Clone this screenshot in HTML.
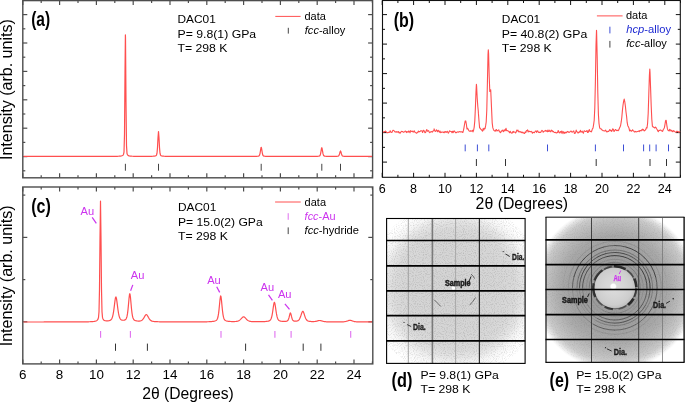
<!DOCTYPE html>
<html><head><meta charset="utf-8"><style>
html,body{margin:0;padding:0;background:#fff;width:685px;height:402px;overflow:hidden}
svg{display:block;will-change:transform}
text{font-family:"Liberation Sans", sans-serif}
</style></head><body>
<svg width="685" height="402" viewBox="0 0 685 402">
<rect x="22.8" y="0.6" width="349.8" height="177.20000000000002" fill="none" stroke="#4d4d4d" stroke-width="1.4"/>
<line x1="22.80" y1="177.80" x2="22.80" y2="173.30" stroke="#4d4d4d" stroke-width="1.2" />
<line x1="22.80" y1="0.60" x2="22.80" y2="5.10" stroke="#4d4d4d" stroke-width="1.2" />
<line x1="41.20" y1="177.80" x2="41.20" y2="175.30" stroke="#4d4d4d" stroke-width="1.2" />
<line x1="41.20" y1="0.60" x2="41.20" y2="3.10" stroke="#4d4d4d" stroke-width="1.2" />
<line x1="59.60" y1="177.80" x2="59.60" y2="173.30" stroke="#4d4d4d" stroke-width="1.2" />
<line x1="59.60" y1="0.60" x2="59.60" y2="5.10" stroke="#4d4d4d" stroke-width="1.2" />
<line x1="78.00" y1="177.80" x2="78.00" y2="175.30" stroke="#4d4d4d" stroke-width="1.2" />
<line x1="78.00" y1="0.60" x2="78.00" y2="3.10" stroke="#4d4d4d" stroke-width="1.2" />
<line x1="96.40" y1="177.80" x2="96.40" y2="173.30" stroke="#4d4d4d" stroke-width="1.2" />
<line x1="96.40" y1="0.60" x2="96.40" y2="5.10" stroke="#4d4d4d" stroke-width="1.2" />
<line x1="114.80" y1="177.80" x2="114.80" y2="175.30" stroke="#4d4d4d" stroke-width="1.2" />
<line x1="114.80" y1="0.60" x2="114.80" y2="3.10" stroke="#4d4d4d" stroke-width="1.2" />
<line x1="133.20" y1="177.80" x2="133.20" y2="173.30" stroke="#4d4d4d" stroke-width="1.2" />
<line x1="133.20" y1="0.60" x2="133.20" y2="5.10" stroke="#4d4d4d" stroke-width="1.2" />
<line x1="151.60" y1="177.80" x2="151.60" y2="175.30" stroke="#4d4d4d" stroke-width="1.2" />
<line x1="151.60" y1="0.60" x2="151.60" y2="3.10" stroke="#4d4d4d" stroke-width="1.2" />
<line x1="170.00" y1="177.80" x2="170.00" y2="173.30" stroke="#4d4d4d" stroke-width="1.2" />
<line x1="170.00" y1="0.60" x2="170.00" y2="5.10" stroke="#4d4d4d" stroke-width="1.2" />
<line x1="188.40" y1="177.80" x2="188.40" y2="175.30" stroke="#4d4d4d" stroke-width="1.2" />
<line x1="188.40" y1="0.60" x2="188.40" y2="3.10" stroke="#4d4d4d" stroke-width="1.2" />
<line x1="206.80" y1="177.80" x2="206.80" y2="173.30" stroke="#4d4d4d" stroke-width="1.2" />
<line x1="206.80" y1="0.60" x2="206.80" y2="5.10" stroke="#4d4d4d" stroke-width="1.2" />
<line x1="225.20" y1="177.80" x2="225.20" y2="175.30" stroke="#4d4d4d" stroke-width="1.2" />
<line x1="225.20" y1="0.60" x2="225.20" y2="3.10" stroke="#4d4d4d" stroke-width="1.2" />
<line x1="243.60" y1="177.80" x2="243.60" y2="173.30" stroke="#4d4d4d" stroke-width="1.2" />
<line x1="243.60" y1="0.60" x2="243.60" y2="5.10" stroke="#4d4d4d" stroke-width="1.2" />
<line x1="262.00" y1="177.80" x2="262.00" y2="175.30" stroke="#4d4d4d" stroke-width="1.2" />
<line x1="262.00" y1="0.60" x2="262.00" y2="3.10" stroke="#4d4d4d" stroke-width="1.2" />
<line x1="280.40" y1="177.80" x2="280.40" y2="173.30" stroke="#4d4d4d" stroke-width="1.2" />
<line x1="280.40" y1="0.60" x2="280.40" y2="5.10" stroke="#4d4d4d" stroke-width="1.2" />
<line x1="298.80" y1="177.80" x2="298.80" y2="175.30" stroke="#4d4d4d" stroke-width="1.2" />
<line x1="298.80" y1="0.60" x2="298.80" y2="3.10" stroke="#4d4d4d" stroke-width="1.2" />
<line x1="317.20" y1="177.80" x2="317.20" y2="173.30" stroke="#4d4d4d" stroke-width="1.2" />
<line x1="317.20" y1="0.60" x2="317.20" y2="5.10" stroke="#4d4d4d" stroke-width="1.2" />
<line x1="335.60" y1="177.80" x2="335.60" y2="175.30" stroke="#4d4d4d" stroke-width="1.2" />
<line x1="335.60" y1="0.60" x2="335.60" y2="3.10" stroke="#4d4d4d" stroke-width="1.2" />
<line x1="354.00" y1="177.80" x2="354.00" y2="173.30" stroke="#4d4d4d" stroke-width="1.2" />
<line x1="354.00" y1="0.60" x2="354.00" y2="5.10" stroke="#4d4d4d" stroke-width="1.2" />
<line x1="372.40" y1="177.80" x2="372.40" y2="175.30" stroke="#4d4d4d" stroke-width="1.2" />
<line x1="372.40" y1="0.60" x2="372.40" y2="3.10" stroke="#4d4d4d" stroke-width="1.2" />
<line x1="22.80" y1="14.60" x2="27.30" y2="14.60" stroke="#4d4d4d" stroke-width="1.2" />
<line x1="372.60" y1="14.60" x2="368.10" y2="14.60" stroke="#4d4d4d" stroke-width="1.2" />
<line x1="22.80" y1="28.80" x2="25.30" y2="28.80" stroke="#4d4d4d" stroke-width="1.2" />
<line x1="372.60" y1="28.80" x2="370.10" y2="28.80" stroke="#4d4d4d" stroke-width="1.2" />
<line x1="22.80" y1="43.00" x2="27.30" y2="43.00" stroke="#4d4d4d" stroke-width="1.2" />
<line x1="372.60" y1="43.00" x2="368.10" y2="43.00" stroke="#4d4d4d" stroke-width="1.2" />
<line x1="22.80" y1="57.20" x2="25.30" y2="57.20" stroke="#4d4d4d" stroke-width="1.2" />
<line x1="372.60" y1="57.20" x2="370.10" y2="57.20" stroke="#4d4d4d" stroke-width="1.2" />
<line x1="22.80" y1="71.40" x2="27.30" y2="71.40" stroke="#4d4d4d" stroke-width="1.2" />
<line x1="372.60" y1="71.40" x2="368.10" y2="71.40" stroke="#4d4d4d" stroke-width="1.2" />
<line x1="22.80" y1="85.60" x2="25.30" y2="85.60" stroke="#4d4d4d" stroke-width="1.2" />
<line x1="372.60" y1="85.60" x2="370.10" y2="85.60" stroke="#4d4d4d" stroke-width="1.2" />
<line x1="22.80" y1="99.80" x2="27.30" y2="99.80" stroke="#4d4d4d" stroke-width="1.2" />
<line x1="372.60" y1="99.80" x2="368.10" y2="99.80" stroke="#4d4d4d" stroke-width="1.2" />
<line x1="22.80" y1="114.00" x2="25.30" y2="114.00" stroke="#4d4d4d" stroke-width="1.2" />
<line x1="372.60" y1="114.00" x2="370.10" y2="114.00" stroke="#4d4d4d" stroke-width="1.2" />
<line x1="22.80" y1="128.20" x2="27.30" y2="128.20" stroke="#4d4d4d" stroke-width="1.2" />
<line x1="372.60" y1="128.20" x2="368.10" y2="128.20" stroke="#4d4d4d" stroke-width="1.2" />
<line x1="22.80" y1="142.40" x2="25.30" y2="142.40" stroke="#4d4d4d" stroke-width="1.2" />
<line x1="372.60" y1="142.40" x2="370.10" y2="142.40" stroke="#4d4d4d" stroke-width="1.2" />
<line x1="22.80" y1="156.60" x2="27.30" y2="156.60" stroke="#4d4d4d" stroke-width="1.2" />
<line x1="372.60" y1="156.60" x2="368.10" y2="156.60" stroke="#4d4d4d" stroke-width="1.2" />
<line x1="22.80" y1="170.80" x2="25.30" y2="170.80" stroke="#4d4d4d" stroke-width="1.2" />
<line x1="372.60" y1="170.80" x2="370.10" y2="170.80" stroke="#4d4d4d" stroke-width="1.2" />
<polyline fill="none" stroke="#ff4f4f" stroke-width="1.2" stroke-linejoin="round" points="23.50,156.40 24.00,156.40 24.50,156.40 25.00,156.40 25.50,156.40 26.00,156.40 26.50,156.40 27.00,156.40 27.50,156.40 28.00,156.40 28.50,156.40 29.00,156.40 29.50,156.40 30.00,156.40 30.50,156.40 31.00,156.40 31.50,156.40 32.00,156.40 32.50,156.40 33.00,156.40 33.50,156.40 34.00,156.40 34.50,156.40 35.00,156.40 35.50,156.40 36.00,156.40 36.50,156.40 37.00,156.40 37.50,156.40 38.00,156.40 38.50,156.40 39.00,156.40 39.50,156.40 40.00,156.40 40.50,156.40 41.00,156.40 41.50,156.40 42.00,156.40 42.50,156.40 43.00,156.40 43.50,156.40 44.00,156.40 44.50,156.40 45.00,156.40 45.50,156.40 46.00,156.40 46.50,156.40 47.00,156.40 47.50,156.40 48.00,156.40 48.50,156.40 49.00,156.40 49.50,156.40 50.00,156.40 50.50,156.40 51.00,156.40 51.50,156.40 52.00,156.40 52.50,156.40 53.00,156.40 53.50,156.40 54.00,156.40 54.50,156.40 55.00,156.40 55.50,156.40 56.00,156.40 56.50,156.40 57.00,156.40 57.50,156.40 58.00,156.40 58.50,156.40 59.00,156.40 59.50,156.40 60.00,156.40 60.50,156.40 61.00,156.40 61.50,156.40 62.00,156.40 62.50,156.40 63.00,156.40 63.50,156.40 64.00,156.40 64.50,156.40 65.00,156.40 65.50,156.40 66.00,156.40 66.50,156.40 67.00,156.40 67.50,156.40 68.00,156.40 68.50,156.40 69.00,156.40 69.50,156.40 70.00,156.40 70.50,156.40 71.00,156.40 71.50,156.40 72.00,156.40 72.50,156.40 73.00,156.40 73.50,156.40 74.00,156.40 74.50,156.40 75.00,156.40 75.50,156.40 76.00,156.40 76.50,156.40 77.00,156.40 77.50,156.40 78.00,156.40 78.50,156.40 79.00,156.40 79.50,156.40 80.00,156.40 80.50,156.40 81.00,156.40 81.50,156.40 82.00,156.40 82.50,156.40 83.00,156.39 83.50,156.39 84.00,156.39 84.50,156.39 85.00,156.39 85.50,156.39 86.00,156.39 86.50,156.39 87.00,156.39 87.50,156.39 88.00,156.39 88.50,156.39 89.00,156.39 89.50,156.39 90.00,156.39 90.50,156.39 91.00,156.39 91.50,156.39 92.00,156.39 92.50,156.39 93.00,156.39 93.50,156.39 94.00,156.39 94.50,156.39 95.00,156.39 95.50,156.39 96.00,156.39 96.50,156.39 97.00,156.39 97.50,156.39 98.00,156.39 98.50,156.39 99.00,156.39 99.50,156.39 100.00,156.39 100.50,156.39 101.00,156.39 101.50,156.39 102.00,156.38 102.50,156.38 103.00,156.38 103.50,156.38 104.00,156.38 104.50,156.38 105.00,156.38 105.50,156.38 106.00,156.38 106.50,156.38 107.00,156.38 107.50,156.38 108.00,156.37 108.50,156.37 109.00,156.37 109.50,156.37 110.00,156.37 110.50,156.36 111.00,156.36 111.50,156.36 112.00,156.36 112.50,156.35 113.00,156.35 113.50,156.35 114.00,156.34 114.50,156.34 115.00,156.33 115.50,156.32 116.00,156.31 116.50,156.30 117.00,156.29 117.50,156.28 118.00,156.26 118.50,156.24 119.00,156.22 119.50,156.19 120.00,156.15 120.50,156.09 121.00,156.02 121.50,155.92 122.00,155.78 122.50,155.55 123.00,155.18 123.50,154.49 124.00,152.06 124.50,134.60 125.00,73.14 125.40,34.90 125.50,37.88 126.00,102.70 126.50,145.46 127.00,153.55 127.50,154.83 128.00,155.35 128.50,155.65 129.00,155.84 129.50,155.96 130.00,156.05 130.50,156.11 131.00,156.16 131.50,156.20 132.00,156.23 132.50,156.25 133.00,156.27 133.50,156.28 134.00,156.29 134.50,156.30 135.00,156.31 135.50,156.32 136.00,156.33 136.50,156.33 137.00,156.33 137.50,156.34 138.00,156.34 138.50,156.35 139.00,156.35 139.50,156.35 140.00,156.35 140.50,156.35 141.00,156.35 141.50,156.35 142.00,156.36 142.50,156.36 143.00,156.36 143.50,156.36 144.00,156.36 144.50,156.36 145.00,156.35 145.50,156.35 146.00,156.35 146.50,156.35 147.00,156.35 147.50,156.35 148.00,156.34 148.50,156.34 149.00,156.33 149.50,156.33 150.00,156.32 150.50,156.31 151.00,156.30 151.50,156.29 152.00,156.28 152.50,156.26 153.00,156.24 153.50,156.20 154.00,156.16 154.50,156.10 155.00,156.02 155.50,155.89 156.00,155.68 156.50,155.13 157.00,153.21 157.50,147.58 158.00,137.73 158.50,131.50 159.00,137.73 159.50,147.58 160.00,153.22 160.50,155.13 161.00,155.68 161.50,155.90 162.00,156.02 162.50,156.11 163.00,156.17 163.50,156.21 164.00,156.24 164.50,156.26 165.00,156.28 165.50,156.30 166.00,156.31 166.50,156.32 167.00,156.33 167.50,156.34 168.00,156.34 168.50,156.35 169.00,156.35 169.50,156.36 170.00,156.36 170.50,156.36 171.00,156.37 171.50,156.37 172.00,156.37 172.50,156.37 173.00,156.37 173.50,156.38 174.00,156.38 174.50,156.38 175.00,156.38 175.50,156.38 176.00,156.38 176.50,156.38 177.00,156.38 177.50,156.38 178.00,156.38 178.50,156.38 179.00,156.39 179.50,156.39 180.00,156.39 180.50,156.39 181.00,156.39 181.50,156.39 182.00,156.39 182.50,156.39 183.00,156.39 183.50,156.39 184.00,156.39 184.50,156.39 185.00,156.39 185.50,156.39 186.00,156.39 186.50,156.39 187.00,156.39 187.50,156.39 188.00,156.39 188.50,156.39 189.00,156.39 189.50,156.39 190.00,156.39 190.50,156.39 191.00,156.39 191.50,156.39 192.00,156.39 192.50,156.39 193.00,156.39 193.50,156.39 194.00,156.39 194.50,156.39 195.00,156.39 195.50,156.39 196.00,156.39 196.50,156.39 197.00,156.39 197.50,156.39 198.00,156.39 198.50,156.39 199.00,156.39 199.50,156.40 200.00,156.40 200.50,156.40 201.00,156.40 201.50,156.40 202.00,156.40 202.50,156.40 203.00,156.40 203.50,156.40 204.00,156.40 204.50,156.40 205.00,156.40 205.50,156.40 206.00,156.40 206.50,156.40 207.00,156.40 207.50,156.40 208.00,156.40 208.50,156.40 209.00,156.40 209.50,156.40 210.00,156.40 210.50,156.40 211.00,156.40 211.50,156.40 212.00,156.40 212.50,156.40 213.00,156.40 213.50,156.40 214.00,156.40 214.50,156.40 215.00,156.40 215.50,156.40 216.00,156.40 216.50,156.40 217.00,156.40 217.50,156.40 218.00,156.40 218.50,156.40 219.00,156.40 219.50,156.40 220.00,156.40 220.50,156.40 221.00,156.40 221.50,156.40 222.00,156.40 222.50,156.40 223.00,156.40 223.50,156.40 224.00,156.40 224.50,156.40 225.00,156.40 225.50,156.40 226.00,156.40 226.50,156.40 227.00,156.40 227.50,156.40 228.00,156.40 228.50,156.40 229.00,156.40 229.50,156.40 230.00,156.40 230.50,156.40 231.00,156.40 231.50,156.40 232.00,156.40 232.50,156.40 233.00,156.40 233.50,156.40 234.00,156.40 234.50,156.40 235.00,156.39 235.50,156.39 236.00,156.39 236.50,156.39 237.00,156.39 237.50,156.39 238.00,156.39 238.50,156.39 239.00,156.39 239.50,156.39 240.00,156.39 240.50,156.39 241.00,156.39 241.50,156.39 242.00,156.39 242.50,156.39 243.00,156.39 243.50,156.39 244.00,156.39 244.50,156.39 245.00,156.39 245.50,156.39 246.00,156.39 246.50,156.39 247.00,156.39 247.50,156.39 248.00,156.39 248.50,156.38 249.00,156.38 249.50,156.38 250.00,156.38 250.50,156.38 251.00,156.38 251.50,156.38 252.00,156.37 252.50,156.37 253.00,156.37 253.50,156.36 254.00,156.36 254.50,156.35 255.00,156.34 255.50,156.33 256.00,156.32 256.50,156.30 257.00,156.28 257.50,156.25 258.00,156.20 258.50,156.11 259.00,155.91 259.50,155.26 260.00,153.56 260.50,150.51 261.00,147.64 261.20,147.30 261.50,148.05 262.00,151.19 262.50,154.01 263.00,155.45 263.50,155.97 264.00,156.13 264.50,156.21 265.00,156.25 265.50,156.28 266.00,156.31 266.50,156.32 267.00,156.33 267.50,156.34 268.00,156.35 268.50,156.36 269.00,156.36 269.50,156.37 270.00,156.37 270.50,156.37 271.00,156.38 271.50,156.38 272.00,156.38 272.50,156.38 273.00,156.38 273.50,156.38 274.00,156.38 274.50,156.39 275.00,156.39 275.50,156.39 276.00,156.39 276.50,156.39 277.00,156.39 277.50,156.39 278.00,156.39 278.50,156.39 279.00,156.39 279.50,156.39 280.00,156.39 280.50,156.39 281.00,156.39 281.50,156.39 282.00,156.39 282.50,156.39 283.00,156.39 283.50,156.39 284.00,156.39 284.50,156.39 285.00,156.39 285.50,156.39 286.00,156.39 286.50,156.39 287.00,156.39 287.50,156.39 288.00,156.39 288.50,156.39 289.00,156.39 289.50,156.39 290.00,156.39 290.50,156.39 291.00,156.39 291.50,156.39 292.00,156.39 292.50,156.39 293.00,156.39 293.50,156.39 294.00,156.39 294.50,156.39 295.00,156.39 295.50,156.39 296.00,156.39 296.50,156.39 297.00,156.39 297.50,156.39 298.00,156.39 298.50,156.39 299.00,156.39 299.50,156.39 300.00,156.39 300.50,156.39 301.00,156.39 301.50,156.39 302.00,156.39 302.50,156.39 303.00,156.39 303.50,156.39 304.00,156.39 304.50,156.39 305.00,156.39 305.50,156.39 306.00,156.39 306.50,156.39 307.00,156.39 307.50,156.39 308.00,156.39 308.50,156.39 309.00,156.38 309.50,156.38 310.00,156.38 310.50,156.38 311.00,156.38 311.50,156.38 312.00,156.38 312.50,156.37 313.00,156.37 313.50,156.37 314.00,156.36 314.50,156.36 315.00,156.35 315.50,156.34 316.00,156.34 316.50,156.32 317.00,156.31 317.50,156.29 318.00,156.26 318.50,156.22 319.00,156.14 319.50,155.98 320.00,155.49 320.50,154.12 321.00,151.42 321.50,148.41 321.80,147.70 322.00,148.03 322.50,150.77 323.00,153.68 323.50,155.31 324.00,155.92 324.50,156.12 325.00,156.20 325.50,156.25 326.00,156.28 326.50,156.30 327.00,156.32 327.50,156.33 328.00,156.34 328.50,156.34 329.00,156.35 329.50,156.35 330.00,156.36 330.50,156.36 331.00,156.36 331.50,156.36 332.00,156.36 332.50,156.36 333.00,156.36 333.50,156.36 334.00,156.35 334.50,156.35 335.00,156.34 335.50,156.34 336.00,156.33 336.50,156.31 337.00,156.29 337.50,156.25 338.00,156.18 338.50,155.99 339.00,155.40 339.50,154.02 340.00,152.03 340.50,150.90 341.00,152.03 341.50,154.02 342.00,155.40 342.50,155.99 343.00,156.19 343.50,156.26 344.00,156.29 344.50,156.32 345.00,156.33 345.50,156.34 346.00,156.35 346.50,156.36 347.00,156.37 347.50,156.37 348.00,156.37 348.50,156.38 349.00,156.38 349.50,156.38 350.00,156.38 350.50,156.38 351.00,156.38 351.50,156.39 352.00,156.39 352.50,156.39 353.00,156.39 353.50,156.39 354.00,156.39 354.50,156.39 355.00,156.39 355.50,156.39 356.00,156.39 356.50,156.39 357.00,156.39 357.50,156.39 358.00,156.39 358.50,156.39 359.00,156.39 359.50,156.39 360.00,156.39 360.50,156.39 361.00,156.39 361.50,156.40 362.00,156.40 362.50,156.40 363.00,156.40 363.50,156.40 364.00,156.40 364.50,156.40 365.00,156.40 365.50,156.40 366.00,156.40 366.50,156.40 367.00,156.40 367.50,156.40 368.00,156.40 368.50,156.40 369.00,156.40 369.50,156.40 370.00,156.40 370.50,156.40 371.00,156.40 371.50,156.40 372.00,156.40"/>
<line x1="125.40" y1="163.80" x2="125.40" y2="170.70" stroke="#444" stroke-width="1.0" />
<line x1="158.50" y1="163.80" x2="158.50" y2="170.70" stroke="#444" stroke-width="1.0" />
<line x1="261.20" y1="163.80" x2="261.20" y2="170.70" stroke="#444" stroke-width="1.0" />
<line x1="321.80" y1="163.80" x2="321.80" y2="170.70" stroke="#444" stroke-width="1.0" />
<line x1="340.50" y1="163.80" x2="340.50" y2="170.70" stroke="#444" stroke-width="1.0" />
<text x="31.2" y="25.6" font-size="19.5" fill="#000" font-weight="bold" font-style="normal" text-anchor="start" textLength="19" lengthAdjust="spacingAndGlyphs" >(a)</text>
<text x="177.5" y="23.1" font-size="11.5" fill="#000" font-weight="normal" font-style="normal" text-anchor="start" textLength="38.3" lengthAdjust="spacingAndGlyphs" >DAC01</text>
<text x="177.5" y="37.8" font-size="11.5" fill="#000" font-weight="normal" font-style="normal" text-anchor="start" textLength="78.7" lengthAdjust="spacingAndGlyphs" >P= 9.8(1) GPa</text>
<text x="177.5" y="52.2" font-size="11.5" fill="#000" font-weight="normal" font-style="normal" text-anchor="start" textLength="50" lengthAdjust="spacingAndGlyphs" >T= 298 K</text>
<line x1="275.30" y1="16.40" x2="300.60" y2="16.40" stroke="#ff5050" stroke-width="1.0" />
<text x="304.5" y="20.2" font-size="10.5" fill="#000" font-weight="normal" font-style="normal" text-anchor="start" textLength="21.4" lengthAdjust="spacingAndGlyphs" >data</text>
<line x1="288.30" y1="27.80" x2="288.30" y2="33.60" stroke="#444" stroke-width="1.0" />
<text x="304.8" y="33.6" font-size="10.5" fill="#000" font-weight="normal" font-style="normal" text-anchor="start" textLength="40.5" lengthAdjust="spacingAndGlyphs" ><tspan font-style="italic">fcc</tspan>-alloy</text>
<rect x="382.5" y="0.5" width="297.79999999999995" height="176.8" fill="none" stroke="#111" stroke-width="1.1"/>
<line x1="382.20" y1="177.30" x2="382.20" y2="172.80" stroke="#111" stroke-width="1.0" />
<line x1="382.20" y1="0.50" x2="382.20" y2="5.00" stroke="#111" stroke-width="1.0" />
<line x1="397.90" y1="177.30" x2="397.90" y2="174.80" stroke="#111" stroke-width="1.0" />
<line x1="397.90" y1="0.50" x2="397.90" y2="3.00" stroke="#111" stroke-width="1.0" />
<line x1="413.60" y1="177.30" x2="413.60" y2="172.80" stroke="#111" stroke-width="1.0" />
<line x1="413.60" y1="0.50" x2="413.60" y2="5.00" stroke="#111" stroke-width="1.0" />
<line x1="429.30" y1="177.30" x2="429.30" y2="174.80" stroke="#111" stroke-width="1.0" />
<line x1="429.30" y1="0.50" x2="429.30" y2="3.00" stroke="#111" stroke-width="1.0" />
<line x1="445.00" y1="177.30" x2="445.00" y2="172.80" stroke="#111" stroke-width="1.0" />
<line x1="445.00" y1="0.50" x2="445.00" y2="5.00" stroke="#111" stroke-width="1.0" />
<line x1="460.70" y1="177.30" x2="460.70" y2="174.80" stroke="#111" stroke-width="1.0" />
<line x1="460.70" y1="0.50" x2="460.70" y2="3.00" stroke="#111" stroke-width="1.0" />
<line x1="476.40" y1="177.30" x2="476.40" y2="172.80" stroke="#111" stroke-width="1.0" />
<line x1="476.40" y1="0.50" x2="476.40" y2="5.00" stroke="#111" stroke-width="1.0" />
<line x1="492.10" y1="177.30" x2="492.10" y2="174.80" stroke="#111" stroke-width="1.0" />
<line x1="492.10" y1="0.50" x2="492.10" y2="3.00" stroke="#111" stroke-width="1.0" />
<line x1="507.80" y1="177.30" x2="507.80" y2="172.80" stroke="#111" stroke-width="1.0" />
<line x1="507.80" y1="0.50" x2="507.80" y2="5.00" stroke="#111" stroke-width="1.0" />
<line x1="523.50" y1="177.30" x2="523.50" y2="174.80" stroke="#111" stroke-width="1.0" />
<line x1="523.50" y1="0.50" x2="523.50" y2="3.00" stroke="#111" stroke-width="1.0" />
<line x1="539.20" y1="177.30" x2="539.20" y2="172.80" stroke="#111" stroke-width="1.0" />
<line x1="539.20" y1="0.50" x2="539.20" y2="5.00" stroke="#111" stroke-width="1.0" />
<line x1="554.90" y1="177.30" x2="554.90" y2="174.80" stroke="#111" stroke-width="1.0" />
<line x1="554.90" y1="0.50" x2="554.90" y2="3.00" stroke="#111" stroke-width="1.0" />
<line x1="570.60" y1="177.30" x2="570.60" y2="172.80" stroke="#111" stroke-width="1.0" />
<line x1="570.60" y1="0.50" x2="570.60" y2="5.00" stroke="#111" stroke-width="1.0" />
<line x1="586.30" y1="177.30" x2="586.30" y2="174.80" stroke="#111" stroke-width="1.0" />
<line x1="586.30" y1="0.50" x2="586.30" y2="3.00" stroke="#111" stroke-width="1.0" />
<line x1="602.00" y1="177.30" x2="602.00" y2="172.80" stroke="#111" stroke-width="1.0" />
<line x1="602.00" y1="0.50" x2="602.00" y2="5.00" stroke="#111" stroke-width="1.0" />
<line x1="617.70" y1="177.30" x2="617.70" y2="174.80" stroke="#111" stroke-width="1.0" />
<line x1="617.70" y1="0.50" x2="617.70" y2="3.00" stroke="#111" stroke-width="1.0" />
<line x1="633.40" y1="177.30" x2="633.40" y2="172.80" stroke="#111" stroke-width="1.0" />
<line x1="633.40" y1="0.50" x2="633.40" y2="5.00" stroke="#111" stroke-width="1.0" />
<line x1="649.10" y1="177.30" x2="649.10" y2="174.80" stroke="#111" stroke-width="1.0" />
<line x1="649.10" y1="0.50" x2="649.10" y2="3.00" stroke="#111" stroke-width="1.0" />
<line x1="664.80" y1="177.30" x2="664.80" y2="172.80" stroke="#111" stroke-width="1.0" />
<line x1="664.80" y1="0.50" x2="664.80" y2="5.00" stroke="#111" stroke-width="1.0" />
<line x1="680.50" y1="177.30" x2="680.50" y2="174.80" stroke="#111" stroke-width="1.0" />
<line x1="680.50" y1="0.50" x2="680.50" y2="3.00" stroke="#111" stroke-width="1.0" />
<line x1="382.50" y1="14.60" x2="387.00" y2="14.60" stroke="#111" stroke-width="1.0" />
<line x1="680.30" y1="14.60" x2="675.80" y2="14.60" stroke="#111" stroke-width="1.0" />
<line x1="382.50" y1="29.35" x2="385.00" y2="29.35" stroke="#111" stroke-width="1.0" />
<line x1="680.30" y1="29.35" x2="677.80" y2="29.35" stroke="#111" stroke-width="1.0" />
<line x1="382.50" y1="44.10" x2="387.00" y2="44.10" stroke="#111" stroke-width="1.0" />
<line x1="680.30" y1="44.10" x2="675.80" y2="44.10" stroke="#111" stroke-width="1.0" />
<line x1="382.50" y1="58.85" x2="385.00" y2="58.85" stroke="#111" stroke-width="1.0" />
<line x1="680.30" y1="58.85" x2="677.80" y2="58.85" stroke="#111" stroke-width="1.0" />
<line x1="382.50" y1="73.60" x2="387.00" y2="73.60" stroke="#111" stroke-width="1.0" />
<line x1="680.30" y1="73.60" x2="675.80" y2="73.60" stroke="#111" stroke-width="1.0" />
<line x1="382.50" y1="88.35" x2="385.00" y2="88.35" stroke="#111" stroke-width="1.0" />
<line x1="680.30" y1="88.35" x2="677.80" y2="88.35" stroke="#111" stroke-width="1.0" />
<line x1="382.50" y1="103.10" x2="387.00" y2="103.10" stroke="#111" stroke-width="1.0" />
<line x1="680.30" y1="103.10" x2="675.80" y2="103.10" stroke="#111" stroke-width="1.0" />
<line x1="382.50" y1="117.85" x2="385.00" y2="117.85" stroke="#111" stroke-width="1.0" />
<line x1="680.30" y1="117.85" x2="677.80" y2="117.85" stroke="#111" stroke-width="1.0" />
<line x1="382.50" y1="132.60" x2="387.00" y2="132.60" stroke="#111" stroke-width="1.0" />
<line x1="680.30" y1="132.60" x2="675.80" y2="132.60" stroke="#111" stroke-width="1.0" />
<line x1="382.50" y1="147.35" x2="385.00" y2="147.35" stroke="#111" stroke-width="1.0" />
<line x1="680.30" y1="147.35" x2="677.80" y2="147.35" stroke="#111" stroke-width="1.0" />
<line x1="382.50" y1="162.10" x2="387.00" y2="162.10" stroke="#111" stroke-width="1.0" />
<line x1="680.30" y1="162.10" x2="675.80" y2="162.10" stroke="#111" stroke-width="1.0" />
<polyline fill="none" stroke="#ff4f4f" stroke-width="1.1" stroke-linejoin="round" points="383.00,131.70 383.60,132.20 384.20,131.83 384.80,131.63 385.40,131.10 386.00,131.45 386.60,132.57 387.20,132.44 387.80,132.86 388.40,132.41 389.00,132.37 389.60,132.19 390.20,130.74 390.80,132.13 391.40,132.35 392.00,132.42 392.60,130.80 393.20,130.20 393.80,130.63 394.40,131.09 395.00,131.84 395.60,131.83 396.20,132.26 396.80,131.53 397.40,131.99 398.00,132.22 398.60,131.50 399.20,133.04 399.80,132.70 400.40,133.07 401.00,131.83 401.60,131.31 402.20,131.42 402.80,131.64 403.40,132.27 404.00,132.20 404.60,131.66 405.20,131.08 405.80,131.21 406.40,132.56 407.00,131.51 407.60,131.93 408.20,132.22 408.80,130.88 409.40,131.56 410.00,132.75 410.60,130.67 411.20,131.21 411.80,131.56 412.40,131.15 413.00,131.99 413.60,131.87 414.20,130.77 414.80,132.10 415.40,132.45 416.00,132.78 416.60,133.27 417.20,132.63 417.80,132.22 418.40,131.01 419.00,132.02 419.60,131.46 420.20,131.38 420.80,130.74 421.40,130.73 422.00,131.06 422.60,132.54 423.20,130.56 423.80,130.29 424.40,131.47 425.00,132.78 425.60,132.59 426.20,130.65 426.80,129.51 427.40,131.25 428.00,131.03 428.60,130.65 429.20,132.05 429.80,132.59 430.40,131.99 431.00,131.71 431.60,131.56 432.20,132.12 432.80,131.31 433.40,130.71 434.00,130.47 434.10,128.86 434.60,130.53 435.20,131.17 435.80,131.36 436.40,129.78 437.00,130.38 437.60,131.79 438.20,130.35 438.80,131.10 439.40,132.28 440.00,130.96 440.60,132.69 441.20,132.51 441.80,131.93 442.40,132.08 443.00,132.38 443.60,132.09 444.20,132.76 444.80,131.64 445.40,131.44 446.00,132.46 446.60,132.05 447.20,131.23 447.80,132.31 448.40,133.08 449.00,131.91 449.60,130.80 450.20,131.34 450.80,131.52 451.40,131.47 452.00,132.72 452.60,131.34 453.20,132.56 453.80,131.09 454.40,130.93 455.00,131.93 455.60,132.65 456.20,132.69 456.80,132.31 457.40,132.01 458.00,131.90 458.60,132.16 459.20,131.66 459.80,131.80 460.40,132.03 461.00,131.63 461.60,131.99 462.20,131.82 462.80,132.52 463.40,130.66 464.00,127.67 464.60,124.01 465.20,120.95 465.50,121.15 465.80,121.01 466.40,124.51 467.00,129.06 467.60,128.24 468.20,129.24 468.80,130.62 469.40,131.21 470.00,131.27 470.60,130.75 471.20,131.31 471.80,131.10 472.40,130.25 473.00,131.87 473.60,130.24 474.20,127.09 474.80,120.88 475.40,107.70 476.00,91.51 476.40,84.31 476.60,86.04 477.20,98.09 477.80,106.22 478.30,111.19 478.40,113.15 479.00,121.03 479.60,127.73 480.20,128.26 480.80,129.34 481.40,129.69 482.00,130.53 482.60,131.11 483.20,128.36 483.80,130.02 484.40,128.35 485.00,128.78 485.60,125.93 486.20,122.00 486.80,109.82 487.40,83.19 488.00,54.90 488.30,49.87 488.60,53.64 489.20,76.33 489.80,91.48 490.40,90.39 490.70,89.70 491.00,96.01 491.60,109.61 492.20,122.87 492.80,127.63 493.40,129.44 494.00,130.58 494.60,130.77 495.20,131.28 495.80,129.94 496.40,129.55 497.00,131.07 497.60,130.47 498.20,130.24 498.80,129.85 499.40,131.78 500.00,132.07 500.60,132.70 501.20,131.07 501.80,131.12 502.40,130.13 503.00,130.99 503.60,131.64 504.20,129.72 504.80,130.69 505.30,130.62 505.40,129.77 506.00,128.34 506.60,130.70 507.20,130.70 507.80,130.53 508.40,131.38 509.00,131.77 509.60,132.78 510.20,131.27 510.80,132.38 511.40,133.05 512.00,133.27 512.60,132.13 513.20,131.32 513.80,132.36 514.40,132.05 515.00,131.96 515.60,132.91 516.20,131.98 516.80,130.13 517.40,130.92 518.00,130.10 518.60,131.82 519.20,132.05 519.80,131.43 520.40,131.67 521.00,132.39 521.60,132.07 522.20,132.90 522.80,132.15 523.40,132.72 524.00,133.25 524.60,133.53 525.20,131.92 525.80,132.52 526.40,130.66 527.00,130.61 527.60,129.93 528.20,131.97 528.80,130.96 529.40,131.52 530.00,131.58 530.60,131.73 531.20,131.35 531.80,131.84 532.40,133.18 533.00,132.34 533.60,132.41 534.20,132.79 534.80,132.03 535.40,130.96 536.00,131.12 536.60,132.39 537.20,130.80 537.80,131.03 538.40,132.31 539.00,132.60 539.60,132.11 540.20,132.54 540.80,132.21 541.40,131.09 542.00,130.41 542.60,130.86 543.20,132.19 543.80,131.54 544.40,131.06 545.00,130.99 545.60,130.40 546.20,131.25 546.80,130.75 547.40,131.73 548.00,130.03 548.60,131.45 549.20,131.22 549.80,130.17 550.40,131.80 551.00,131.62 551.60,130.09 552.20,130.57 552.80,131.61 553.40,131.41 554.00,132.27 554.60,132.55 555.20,132.58 555.80,132.34 556.40,133.01 557.00,132.74 557.60,132.48 558.20,130.49 558.80,132.03 559.40,132.88 560.00,131.97 560.60,131.52 561.20,133.17 561.80,130.97 562.40,131.87 563.00,133.65 563.60,131.76 564.20,132.31 564.80,133.40 565.40,132.27 566.00,132.39 566.60,132.68 567.20,131.43 567.80,131.60 568.40,131.94 569.00,132.46 569.60,132.00 570.20,131.71 570.80,130.99 571.40,131.23 572.00,132.25 572.60,132.01 573.20,131.21 573.80,130.93 574.40,133.46 575.00,133.20 575.60,132.72 576.20,130.13 576.80,131.63 577.40,132.04 578.00,133.08 578.60,132.49 579.20,131.91 579.80,132.14 580.40,130.36 581.00,131.96 581.60,131.97 582.20,131.19 582.80,132.43 583.40,133.20 584.00,131.05 584.60,130.82 585.20,131.43 585.80,131.53 586.40,131.10 587.00,130.47 587.60,132.51 588.20,132.35 588.80,130.54 589.40,129.69 590.00,131.55 590.60,131.49 591.20,131.86 591.80,130.91 592.40,128.85 593.00,128.22 593.60,124.63 594.20,120.21 594.80,107.81 595.40,81.43 596.00,45.17 596.50,30.35 596.60,31.53 597.20,57.49 597.80,92.43 598.40,114.29 599.00,123.37 599.60,127.52 600.20,128.65 600.80,128.70 601.40,129.11 602.00,129.92 602.60,130.26 603.20,130.68 603.80,130.79 604.40,131.03 605.00,130.93 605.60,130.08 606.20,131.08 606.80,131.92 607.40,131.76 608.00,131.25 608.60,131.55 609.20,130.60 609.80,129.56 610.40,130.65 611.00,130.27 611.60,131.37 612.20,130.37 612.80,128.82 613.40,129.43 614.00,131.55 614.60,130.77 615.20,129.67 615.80,129.65 616.40,130.49 617.00,130.61 617.60,130.20 618.20,130.73 618.80,129.85 619.40,128.24 620.00,126.95 620.60,125.50 621.20,121.96 621.80,117.51 622.40,110.63 623.00,105.24 623.60,101.45 624.20,99.14 624.80,101.77 625.40,106.20 626.00,111.95 626.60,116.48 627.20,122.70 627.80,125.68 628.40,126.80 629.00,128.13 629.60,130.92 630.20,129.97 630.80,130.74 631.40,131.24 632.00,130.79 632.60,129.84 633.20,130.60 633.80,131.05 634.40,131.84 635.00,131.89 635.60,131.38 636.20,131.84 636.80,131.79 637.40,131.53 638.00,131.34 638.60,131.05 639.20,131.64 639.80,130.53 640.40,130.44 641.00,130.86 641.60,129.87 642.20,130.25 642.80,129.13 643.40,129.65 644.00,130.65 644.60,130.83 645.20,130.19 645.80,129.47 646.40,127.69 647.00,127.99 647.60,123.20 648.20,113.20 648.80,94.21 649.40,75.34 649.80,68.95 650.00,71.84 650.60,88.39 651.20,105.76 651.80,119.29 652.40,126.11 653.00,126.91 653.60,127.13 654.20,127.67 654.80,127.92 655.40,127.06 656.00,127.64 656.30,128.12 656.60,128.73 657.20,129.59 657.80,131.03 658.40,131.65 659.00,130.22 659.60,130.42 660.20,130.12 660.80,130.01 661.40,130.72 662.00,131.00 662.60,131.38 663.20,129.74 663.80,128.77 664.40,127.70 665.00,124.37 665.60,120.70 665.90,120.23 666.20,120.43 666.80,125.04 667.40,128.63 668.00,130.27 668.60,130.50 669.20,130.97 669.80,129.26 670.40,130.01 671.00,131.06 671.60,130.30 672.20,131.33 672.80,131.67 673.40,130.65 674.00,131.15 674.60,131.29 675.20,131.93 675.80,132.27 676.40,131.91 677.00,131.18 677.60,131.45 678.20,131.62 678.80,132.28 679.40,132.18 680.00,131.39"/>
<line x1="465.20" y1="144.50" x2="465.20" y2="151.30" stroke="#3d4fd6" stroke-width="1.0" />
<line x1="477.40" y1="144.50" x2="477.40" y2="151.30" stroke="#3d4fd6" stroke-width="1.0" />
<line x1="488.80" y1="144.50" x2="488.80" y2="151.30" stroke="#3d4fd6" stroke-width="1.0" />
<line x1="547.50" y1="144.50" x2="547.50" y2="151.30" stroke="#3d4fd6" stroke-width="1.0" />
<line x1="595.40" y1="144.50" x2="595.40" y2="151.30" stroke="#3d4fd6" stroke-width="1.0" />
<line x1="623.50" y1="144.50" x2="623.50" y2="151.30" stroke="#3d4fd6" stroke-width="1.0" />
<line x1="643.60" y1="144.50" x2="643.60" y2="151.30" stroke="#3d4fd6" stroke-width="1.0" />
<line x1="649.70" y1="144.50" x2="649.70" y2="151.30" stroke="#3d4fd6" stroke-width="1.0" />
<line x1="656.10" y1="144.50" x2="656.10" y2="151.30" stroke="#3d4fd6" stroke-width="1.0" />
<line x1="668.50" y1="144.50" x2="668.50" y2="151.30" stroke="#3d4fd6" stroke-width="1.0" />
<line x1="476.40" y1="159.00" x2="476.40" y2="166.00" stroke="#333" stroke-width="1.0" />
<line x1="505.50" y1="159.00" x2="505.50" y2="166.00" stroke="#333" stroke-width="1.0" />
<line x1="596.20" y1="159.00" x2="596.20" y2="166.00" stroke="#333" stroke-width="1.0" />
<line x1="650.00" y1="159.00" x2="650.00" y2="166.00" stroke="#333" stroke-width="1.0" />
<line x1="666.50" y1="159.00" x2="666.50" y2="166.00" stroke="#333" stroke-width="1.0" />
<text x="393.7" y="26.9" font-size="20" fill="#000" font-weight="bold" font-style="normal" text-anchor="start" textLength="20.4" lengthAdjust="spacingAndGlyphs" >(b)</text>
<text x="501.8" y="22.9" font-size="11.5" fill="#000" font-weight="normal" font-style="normal" text-anchor="start" textLength="38.3" lengthAdjust="spacingAndGlyphs" >DAC01</text>
<text x="501.8" y="37.5" font-size="11.5" fill="#000" font-weight="normal" font-style="normal" text-anchor="start" textLength="85.5" lengthAdjust="spacingAndGlyphs" >P= 40.8(2) GPa</text>
<text x="501.8" y="52.3" font-size="11.5" fill="#000" font-weight="normal" font-style="normal" text-anchor="start" textLength="50" lengthAdjust="spacingAndGlyphs" >T= 298 K</text>
<line x1="596.90" y1="15.90" x2="622.60" y2="15.90" stroke="#ff5050" stroke-width="1.0" />
<text x="626" y="19.4" font-size="10.5" fill="#000" font-weight="normal" font-style="normal" text-anchor="start" textLength="21.4" lengthAdjust="spacingAndGlyphs" >data</text>
<line x1="609.90" y1="26.70" x2="609.90" y2="33.40" stroke="#3d4fd6" stroke-width="1.0" />
<text x="626.3" y="33.3" font-size="10.5" fill="#1e2ad2" font-weight="normal" font-style="normal" text-anchor="start" textLength="44.8" lengthAdjust="spacingAndGlyphs" ><tspan font-style="italic">hcp</tspan>-alloy</text>
<line x1="609.90" y1="40.90" x2="609.90" y2="47.60" stroke="#444" stroke-width="1.0" />
<text x="626.3" y="47.2" font-size="10.5" fill="#000" font-weight="normal" font-style="normal" text-anchor="start" textLength="40.5" lengthAdjust="spacingAndGlyphs" ><tspan font-style="italic">fcc</tspan>-alloy</text>
<text x="382.2" y="192.9" font-size="12.5" fill="#000" font-weight="normal" font-style="normal" text-anchor="middle" >6</text>
<text x="413.6" y="192.9" font-size="12.5" fill="#000" font-weight="normal" font-style="normal" text-anchor="middle" >8</text>
<text x="445.0" y="192.9" font-size="12.5" fill="#000" font-weight="normal" font-style="normal" text-anchor="middle" >10</text>
<text x="476.4" y="192.9" font-size="12.5" fill="#000" font-weight="normal" font-style="normal" text-anchor="middle" >12</text>
<text x="507.8" y="192.9" font-size="12.5" fill="#000" font-weight="normal" font-style="normal" text-anchor="middle" >14</text>
<text x="539.2" y="192.9" font-size="12.5" fill="#000" font-weight="normal" font-style="normal" text-anchor="middle" >16</text>
<text x="570.6" y="192.9" font-size="12.5" fill="#000" font-weight="normal" font-style="normal" text-anchor="middle" >18</text>
<text x="602.0" y="192.9" font-size="12.5" fill="#000" font-weight="normal" font-style="normal" text-anchor="middle" >20</text>
<text x="633.4" y="192.9" font-size="12.5" fill="#000" font-weight="normal" font-style="normal" text-anchor="middle" >22</text>
<text x="664.8" y="192.9" font-size="12.5" fill="#000" font-weight="normal" font-style="normal" text-anchor="middle" >24</text>
<text x="475.6" y="209.1" font-size="16.8" fill="#000" font-weight="normal" font-style="normal" text-anchor="start" textLength="92.5" lengthAdjust="spacingAndGlyphs" >2θ (Degrees)</text>
<rect x="22.8" y="187.0" width="350.0" height="176.89999999999998" fill="none" stroke="#4d4d4d" stroke-width="1.4"/>
<line x1="22.80" y1="363.90" x2="22.80" y2="359.40" stroke="#4d4d4d" stroke-width="1.2" />
<line x1="22.80" y1="187.00" x2="22.80" y2="191.50" stroke="#4d4d4d" stroke-width="1.2" />
<line x1="41.20" y1="363.90" x2="41.20" y2="361.40" stroke="#4d4d4d" stroke-width="1.2" />
<line x1="41.20" y1="187.00" x2="41.20" y2="189.50" stroke="#4d4d4d" stroke-width="1.2" />
<line x1="59.60" y1="363.90" x2="59.60" y2="359.40" stroke="#4d4d4d" stroke-width="1.2" />
<line x1="59.60" y1="187.00" x2="59.60" y2="191.50" stroke="#4d4d4d" stroke-width="1.2" />
<line x1="78.00" y1="363.90" x2="78.00" y2="361.40" stroke="#4d4d4d" stroke-width="1.2" />
<line x1="78.00" y1="187.00" x2="78.00" y2="189.50" stroke="#4d4d4d" stroke-width="1.2" />
<line x1="96.40" y1="363.90" x2="96.40" y2="359.40" stroke="#4d4d4d" stroke-width="1.2" />
<line x1="96.40" y1="187.00" x2="96.40" y2="191.50" stroke="#4d4d4d" stroke-width="1.2" />
<line x1="114.80" y1="363.90" x2="114.80" y2="361.40" stroke="#4d4d4d" stroke-width="1.2" />
<line x1="114.80" y1="187.00" x2="114.80" y2="189.50" stroke="#4d4d4d" stroke-width="1.2" />
<line x1="133.20" y1="363.90" x2="133.20" y2="359.40" stroke="#4d4d4d" stroke-width="1.2" />
<line x1="133.20" y1="187.00" x2="133.20" y2="191.50" stroke="#4d4d4d" stroke-width="1.2" />
<line x1="151.60" y1="363.90" x2="151.60" y2="361.40" stroke="#4d4d4d" stroke-width="1.2" />
<line x1="151.60" y1="187.00" x2="151.60" y2="189.50" stroke="#4d4d4d" stroke-width="1.2" />
<line x1="170.00" y1="363.90" x2="170.00" y2="359.40" stroke="#4d4d4d" stroke-width="1.2" />
<line x1="170.00" y1="187.00" x2="170.00" y2="191.50" stroke="#4d4d4d" stroke-width="1.2" />
<line x1="188.40" y1="363.90" x2="188.40" y2="361.40" stroke="#4d4d4d" stroke-width="1.2" />
<line x1="188.40" y1="187.00" x2="188.40" y2="189.50" stroke="#4d4d4d" stroke-width="1.2" />
<line x1="206.80" y1="363.90" x2="206.80" y2="359.40" stroke="#4d4d4d" stroke-width="1.2" />
<line x1="206.80" y1="187.00" x2="206.80" y2="191.50" stroke="#4d4d4d" stroke-width="1.2" />
<line x1="225.20" y1="363.90" x2="225.20" y2="361.40" stroke="#4d4d4d" stroke-width="1.2" />
<line x1="225.20" y1="187.00" x2="225.20" y2="189.50" stroke="#4d4d4d" stroke-width="1.2" />
<line x1="243.60" y1="363.90" x2="243.60" y2="359.40" stroke="#4d4d4d" stroke-width="1.2" />
<line x1="243.60" y1="187.00" x2="243.60" y2="191.50" stroke="#4d4d4d" stroke-width="1.2" />
<line x1="262.00" y1="363.90" x2="262.00" y2="361.40" stroke="#4d4d4d" stroke-width="1.2" />
<line x1="262.00" y1="187.00" x2="262.00" y2="189.50" stroke="#4d4d4d" stroke-width="1.2" />
<line x1="280.40" y1="363.90" x2="280.40" y2="359.40" stroke="#4d4d4d" stroke-width="1.2" />
<line x1="280.40" y1="187.00" x2="280.40" y2="191.50" stroke="#4d4d4d" stroke-width="1.2" />
<line x1="298.80" y1="363.90" x2="298.80" y2="361.40" stroke="#4d4d4d" stroke-width="1.2" />
<line x1="298.80" y1="187.00" x2="298.80" y2="189.50" stroke="#4d4d4d" stroke-width="1.2" />
<line x1="317.20" y1="363.90" x2="317.20" y2="359.40" stroke="#4d4d4d" stroke-width="1.2" />
<line x1="317.20" y1="187.00" x2="317.20" y2="191.50" stroke="#4d4d4d" stroke-width="1.2" />
<line x1="335.60" y1="363.90" x2="335.60" y2="361.40" stroke="#4d4d4d" stroke-width="1.2" />
<line x1="335.60" y1="187.00" x2="335.60" y2="189.50" stroke="#4d4d4d" stroke-width="1.2" />
<line x1="354.00" y1="363.90" x2="354.00" y2="359.40" stroke="#4d4d4d" stroke-width="1.2" />
<line x1="354.00" y1="187.00" x2="354.00" y2="191.50" stroke="#4d4d4d" stroke-width="1.2" />
<line x1="372.40" y1="363.90" x2="372.40" y2="361.40" stroke="#4d4d4d" stroke-width="1.2" />
<line x1="372.40" y1="187.00" x2="372.40" y2="189.50" stroke="#4d4d4d" stroke-width="1.2" />
<line x1="22.80" y1="195.10" x2="25.30" y2="195.10" stroke="#4d4d4d" stroke-width="1.2" />
<line x1="372.80" y1="195.10" x2="370.30" y2="195.10" stroke="#4d4d4d" stroke-width="1.2" />
<line x1="22.80" y1="237.40" x2="27.30" y2="237.40" stroke="#4d4d4d" stroke-width="1.2" />
<line x1="372.80" y1="237.40" x2="368.30" y2="237.40" stroke="#4d4d4d" stroke-width="1.2" />
<line x1="22.80" y1="279.60" x2="25.30" y2="279.60" stroke="#4d4d4d" stroke-width="1.2" />
<line x1="372.80" y1="279.60" x2="370.30" y2="279.60" stroke="#4d4d4d" stroke-width="1.2" />
<line x1="22.80" y1="321.80" x2="27.30" y2="321.80" stroke="#4d4d4d" stroke-width="1.2" />
<line x1="372.80" y1="321.80" x2="368.30" y2="321.80" stroke="#4d4d4d" stroke-width="1.2" />
<polyline fill="none" stroke="#ff4f4f" stroke-width="1.2" stroke-linejoin="round" points="23.50,321.98 24.00,321.98 24.50,321.98 25.00,321.98 25.50,321.98 26.00,321.98 26.50,321.98 27.00,321.98 27.50,321.98 28.00,321.98 28.50,321.98 29.00,321.98 29.50,321.98 30.00,321.98 30.50,321.98 31.00,321.98 31.50,321.98 32.00,321.98 32.50,321.98 33.00,321.98 33.50,321.98 34.00,321.98 34.50,321.98 35.00,321.98 35.50,321.98 36.00,321.98 36.50,321.98 37.00,321.98 37.50,321.98 38.00,321.98 38.50,321.98 39.00,321.98 39.50,321.98 40.00,321.98 40.50,321.98 41.00,321.98 41.50,321.98 42.00,321.98 42.50,321.98 43.00,321.98 43.50,321.98 44.00,321.97 44.50,321.97 45.00,321.97 45.50,321.97 46.00,321.97 46.50,321.97 47.00,321.97 47.50,321.97 48.00,321.97 48.50,321.97 49.00,321.97 49.50,321.97 50.00,321.97 50.50,321.97 51.00,321.97 51.50,321.97 52.00,321.97 52.50,321.97 53.00,321.97 53.50,321.97 54.00,321.97 54.50,321.97 55.00,321.97 55.50,321.96 56.00,321.96 56.50,321.96 57.00,321.96 57.50,321.96 58.00,321.96 58.50,321.96 59.00,321.96 59.50,321.96 60.00,321.96 60.50,321.96 61.00,321.96 61.50,321.96 62.00,321.96 62.50,321.96 63.00,321.95 63.50,321.95 64.00,321.95 64.50,321.95 65.00,321.95 65.50,321.95 66.00,321.95 66.50,321.95 67.00,321.95 67.50,321.95 68.00,321.94 68.50,321.94 69.00,321.94 69.50,321.94 70.00,321.94 70.50,321.94 71.00,321.94 71.50,321.94 72.00,321.93 72.50,321.93 73.00,321.93 73.50,321.93 74.00,321.93 74.50,321.92 75.00,321.92 75.50,321.92 76.00,321.92 76.50,321.92 77.00,321.91 77.50,321.91 78.00,321.91 78.50,321.91 79.00,321.90 79.50,321.90 80.00,321.90 80.50,321.89 81.00,321.89 81.50,321.88 82.00,321.88 82.50,321.87 83.00,321.87 83.50,321.86 84.00,321.86 84.50,321.85 85.00,321.85 85.50,321.84 86.00,321.83 86.50,321.82 87.00,321.81 87.50,321.80 88.00,321.79 88.50,321.78 89.00,321.76 89.50,321.75 90.00,321.73 90.50,321.71 91.00,321.69 91.50,321.66 92.00,321.63 92.50,321.60 93.00,321.55 93.50,321.50 94.00,321.44 94.50,321.36 95.00,321.27 95.50,321.14 96.00,320.98 96.50,320.75 97.00,320.42 97.50,319.94 98.00,319.15 98.50,317.55 99.00,311.81 99.50,289.37 100.00,238.56 100.50,201.20 101.00,238.53 101.50,289.31 102.00,311.72 102.50,317.42 103.00,319.00 103.50,319.75 104.00,320.20 104.50,320.48 105.00,320.66 105.50,320.78 106.00,320.85 106.50,320.89 107.00,320.90 107.50,320.88 108.00,320.84 108.50,320.78 109.00,320.69 109.50,320.56 110.00,320.38 110.50,320.13 111.00,319.75 111.50,319.16 112.00,318.26 112.50,316.87 113.00,314.85 113.50,312.08 114.00,308.57 114.50,304.57 115.00,300.63 115.50,297.72 115.90,296.90 116.00,296.95 116.50,298.66 117.00,302.10 117.50,306.15 118.00,309.98 118.50,313.18 119.00,315.62 119.50,317.34 120.00,318.49 120.50,319.22 121.00,319.68 121.50,319.96 122.00,320.13 122.50,320.22 123.00,320.27 123.50,320.26 124.00,320.21 124.50,320.10 125.00,319.91 125.50,319.60 126.00,319.06 126.50,318.09 127.00,316.40 127.50,313.65 128.00,309.59 128.50,304.34 129.00,298.69 129.50,294.50 129.80,293.70 130.00,294.07 130.50,297.70 131.00,303.26 131.50,308.72 132.00,313.07 132.50,316.10 133.00,318.01 133.50,319.13 134.00,319.78 134.50,320.18 135.00,320.44 135.50,320.63 136.00,320.77 136.50,320.87 137.00,320.95 137.50,321.00 138.00,321.04 138.50,321.06 139.00,321.06 139.50,321.03 140.00,320.97 140.50,320.87 141.00,320.72 141.50,320.49 142.00,320.17 142.50,319.73 143.00,319.15 143.50,318.45 144.00,317.63 144.50,316.74 145.00,315.86 145.50,315.12 146.00,314.67 146.30,314.60 146.50,314.64 147.00,315.03 147.50,315.75 148.00,316.63 148.50,317.54 149.00,318.40 149.50,319.15 150.00,319.78 150.50,320.27 151.00,320.64 151.50,320.92 152.00,321.12 152.50,321.27 153.00,321.37 153.50,321.45 154.00,321.51 154.50,321.56 155.00,321.59 155.50,321.63 156.00,321.65 156.50,321.68 157.00,321.70 157.50,321.72 158.00,321.74 158.50,321.75 159.00,321.77 159.50,321.78 160.00,321.79 160.50,321.80 161.00,321.81 161.50,321.82 162.00,321.82 162.50,321.83 163.00,321.84 163.50,321.84 164.00,321.85 164.50,321.85 165.00,321.86 165.50,321.86 166.00,321.87 166.50,321.87 167.00,321.87 167.50,321.88 168.00,321.88 168.50,321.88 169.00,321.89 169.50,321.89 170.00,321.89 170.50,321.89 171.00,321.90 171.50,321.90 172.00,321.90 172.50,321.90 173.00,321.90 173.50,321.91 174.00,321.91 174.50,321.91 175.00,321.91 175.50,321.91 176.00,321.91 176.50,321.91 177.00,321.91 177.50,321.91 178.00,321.92 178.50,321.92 179.00,321.92 179.50,321.92 180.00,321.92 180.50,321.92 181.00,321.92 181.50,321.92 182.00,321.92 182.50,321.92 183.00,321.92 183.50,321.92 184.00,321.92 184.50,321.92 185.00,321.92 185.50,321.92 186.00,321.92 186.50,321.92 187.00,321.92 187.50,321.92 188.00,321.92 188.50,321.92 189.00,321.92 189.50,321.92 190.00,321.92 190.50,321.91 191.00,321.91 191.50,321.91 192.00,321.91 192.50,321.91 193.00,321.91 193.50,321.91 194.00,321.91 194.50,321.90 195.00,321.90 195.50,321.90 196.00,321.90 196.50,321.90 197.00,321.89 197.50,321.89 198.00,321.89 198.50,321.89 199.00,321.88 199.50,321.88 200.00,321.88 200.50,321.87 201.00,321.87 201.50,321.86 202.00,321.86 202.50,321.85 203.00,321.85 203.50,321.84 204.00,321.83 204.50,321.83 205.00,321.82 205.50,321.81 206.00,321.80 206.50,321.79 207.00,321.78 207.50,321.76 208.00,321.75 208.50,321.73 209.00,321.71 209.50,321.69 210.00,321.66 210.50,321.64 211.00,321.60 211.50,321.56 212.00,321.52 212.50,321.47 213.00,321.41 213.50,321.33 214.00,321.24 214.50,321.13 215.00,320.99 215.50,320.81 216.00,320.55 216.50,320.18 217.00,319.57 217.50,318.52 218.00,316.74 218.50,313.92 219.00,309.87 219.50,304.79 220.00,299.61 220.50,296.24 220.70,295.90 221.00,296.65 221.50,300.57 222.00,305.85 222.50,310.76 223.00,314.56 223.50,317.15 224.00,318.75 224.50,319.69 225.00,320.23 225.50,320.57 226.00,320.80 226.50,320.97 227.00,321.10 227.50,321.20 228.00,321.28 228.50,321.34 229.00,321.40 229.50,321.44 230.00,321.47 230.50,321.50 231.00,321.52 231.50,321.54 232.00,321.55 232.50,321.55 233.00,321.56 233.50,321.55 234.00,321.55 234.50,321.53 235.00,321.51 235.50,321.49 236.00,321.45 236.50,321.39 237.00,321.31 237.50,321.20 238.00,321.05 238.50,320.85 239.00,320.60 239.50,320.28 240.00,319.89 240.50,319.43 241.00,318.91 241.50,318.36 242.00,317.81 242.50,317.32 243.00,316.97 243.50,316.80 243.60,316.80 244.00,316.88 244.50,317.17 245.00,317.61 245.50,318.15 246.00,318.71 246.50,319.24 247.00,319.73 247.50,320.16 248.00,320.51 248.50,320.79 249.00,321.02 249.50,321.19 250.00,321.32 250.50,321.41 251.00,321.49 251.50,321.54 252.00,321.58 252.50,321.61 253.00,321.64 253.50,321.66 254.00,321.67 254.50,321.69 255.00,321.70 255.50,321.71 256.00,321.71 256.50,321.72 257.00,321.72 257.50,321.72 258.00,321.72 258.50,321.72 259.00,321.72 259.50,321.72 260.00,321.71 260.50,321.71 261.00,321.70 261.50,321.69 262.00,321.68 262.50,321.66 263.00,321.65 263.50,321.63 264.00,321.61 264.50,321.58 265.00,321.55 265.50,321.51 266.00,321.47 266.50,321.42 267.00,321.35 267.50,321.28 268.00,321.18 268.50,321.06 269.00,320.90 269.50,320.68 270.00,320.34 270.50,319.80 271.00,318.93 271.50,317.56 272.00,315.52 272.50,312.74 273.00,309.35 273.50,305.82 274.00,303.09 274.40,302.30 274.50,302.35 275.00,304.00 275.50,307.19 276.00,310.75 276.50,313.92 277.00,316.40 277.50,318.15 278.00,319.30 278.50,320.01 279.00,320.45 279.50,320.73 280.00,320.92 280.50,321.05 281.00,321.15 281.50,321.22 282.00,321.28 282.50,321.33 283.00,321.36 283.50,321.38 284.00,321.39 284.50,321.39 285.00,321.37 285.50,321.34 286.00,321.29 286.50,321.21 287.00,321.07 287.50,320.80 288.00,320.28 288.50,319.29 289.00,317.69 289.50,315.57 290.00,313.56 290.40,312.90 290.50,312.94 291.00,314.27 291.50,316.43 292.00,318.37 292.50,319.71 293.00,320.47 293.50,320.86 294.00,321.05 294.50,321.14 295.00,321.18 295.50,321.19 296.00,321.17 296.50,321.12 297.00,321.03 297.50,320.89 298.00,320.67 298.50,320.33 299.00,319.82 299.50,319.09 300.00,318.10 300.50,316.84 301.00,315.36 301.50,313.79 302.00,312.37 302.50,311.46 302.80,311.30 303.00,311.38 303.50,312.15 304.00,313.51 304.50,315.08 305.00,316.60 305.50,317.92 306.00,318.97 306.50,319.76 307.00,320.33 307.50,320.72 308.00,320.98 308.50,321.15 309.00,321.27 309.50,321.36 310.00,321.42 310.50,321.47 311.00,321.51 311.50,321.54 312.00,321.56 312.50,321.57 313.00,321.58 313.50,321.57 314.00,321.55 314.50,321.51 315.00,321.46 315.50,321.39 316.00,321.30 316.50,321.19 317.00,321.06 317.50,320.92 318.00,320.78 318.50,320.65 319.00,320.55 319.50,320.50 319.70,320.50 320.00,320.51 320.50,320.59 321.00,320.70 321.50,320.85 322.00,321.00 322.50,321.15 323.00,321.29 323.50,321.41 324.00,321.51 324.50,321.60 325.00,321.66 325.50,321.71 326.00,321.75 326.50,321.78 327.00,321.81 327.50,321.82 328.00,321.84 328.50,321.85 329.00,321.86 329.50,321.86 330.00,321.87 330.50,321.87 331.00,321.88 331.50,321.88 332.00,321.89 332.50,321.89 333.00,321.89 333.50,321.89 334.00,321.90 334.50,321.90 335.00,321.90 335.50,321.90 336.00,321.90 336.50,321.90 337.00,321.90 337.50,321.90 338.00,321.89 338.50,321.89 339.00,321.89 339.50,321.88 340.00,321.88 340.50,321.87 341.00,321.87 341.50,321.86 342.00,321.85 342.50,321.83 343.00,321.81 343.50,321.78 344.00,321.74 344.50,321.69 345.00,321.62 345.50,321.53 346.00,321.42 346.50,321.29 347.00,321.13 347.50,320.96 348.00,320.78 348.50,320.60 349.00,320.44 349.50,320.34 350.00,320.30 350.50,320.34 351.00,320.45 351.50,320.60 352.00,320.78 352.50,320.96 353.00,321.14 353.50,321.29 354.00,321.43 354.50,321.54 355.00,321.63 355.50,321.70 356.00,321.75 356.50,321.80 357.00,321.83 357.50,321.85 358.00,321.87 358.50,321.88 359.00,321.89 359.50,321.90 360.00,321.91 360.50,321.91 361.00,321.92 361.50,321.92 362.00,321.93 362.50,321.93 363.00,321.94 363.50,321.94 364.00,321.94 364.50,321.95 365.00,321.95 365.50,321.95 366.00,321.95 366.50,321.95 367.00,321.96 367.50,321.96 368.00,321.96 368.50,321.96 369.00,321.96 369.50,321.96 370.00,321.96 370.50,321.96 371.00,321.97 371.50,321.97 372.00,321.97"/>
<line x1="100.60" y1="331.10" x2="100.60" y2="337.80" stroke="#e070f0" stroke-width="1.1" />
<line x1="130.40" y1="331.10" x2="130.40" y2="337.80" stroke="#e070f0" stroke-width="1.1" />
<line x1="221.00" y1="331.10" x2="221.00" y2="337.80" stroke="#e070f0" stroke-width="1.1" />
<line x1="274.90" y1="331.10" x2="274.90" y2="337.80" stroke="#e070f0" stroke-width="1.1" />
<line x1="291.10" y1="331.10" x2="291.10" y2="337.80" stroke="#e070f0" stroke-width="1.1" />
<line x1="350.70" y1="331.10" x2="350.70" y2="337.80" stroke="#e070f0" stroke-width="1.1" />
<line x1="115.50" y1="343.60" x2="115.50" y2="350.80" stroke="#333" stroke-width="1.0" />
<line x1="147.40" y1="343.60" x2="147.40" y2="350.80" stroke="#333" stroke-width="1.0" />
<line x1="245.60" y1="343.60" x2="245.60" y2="350.80" stroke="#333" stroke-width="1.0" />
<line x1="303.20" y1="343.60" x2="303.20" y2="350.80" stroke="#333" stroke-width="1.0" />
<line x1="320.90" y1="343.60" x2="320.90" y2="350.80" stroke="#333" stroke-width="1.0" />
<text x="31.2" y="213.1" font-size="20" fill="#000" font-weight="bold" font-style="normal" text-anchor="start" textLength="19.6" lengthAdjust="spacingAndGlyphs" >(c)</text>
<text x="178" y="210.8" font-size="11.5" fill="#000" font-weight="normal" font-style="normal" text-anchor="start" textLength="38.3" lengthAdjust="spacingAndGlyphs" >DAC01</text>
<text x="178" y="225.7" font-size="11.5" fill="#000" font-weight="normal" font-style="normal" text-anchor="start" textLength="84.7" lengthAdjust="spacingAndGlyphs" >P= 15.0(2) GPa</text>
<text x="178" y="239.5" font-size="11.5" fill="#000" font-weight="normal" font-style="normal" text-anchor="start" textLength="50" lengthAdjust="spacingAndGlyphs" >T= 298 K</text>
<line x1="275.10" y1="202.00" x2="300.70" y2="202.00" stroke="#ff5050" stroke-width="1.0" />
<text x="304.6" y="206" font-size="10.5" fill="#000" font-weight="normal" font-style="normal" text-anchor="start" textLength="21.4" lengthAdjust="spacingAndGlyphs" >data</text>
<line x1="288.20" y1="213.20" x2="288.20" y2="219.80" stroke="#e070f0" stroke-width="1.0" />
<text x="304.6" y="220.1" font-size="10.5" fill="#cc33ee" font-weight="normal" font-style="normal" text-anchor="start" textLength="31" lengthAdjust="spacingAndGlyphs" ><tspan font-style="italic">fcc</tspan>-Au</text>
<line x1="288.20" y1="227.40" x2="288.20" y2="234.10" stroke="#444" stroke-width="1.0" />
<text x="304.6" y="234.1" font-size="10.5" fill="#000" font-weight="normal" font-style="normal" text-anchor="start" textLength="54.4" lengthAdjust="spacingAndGlyphs" ><tspan font-style="italic">fcc</tspan>-hydride</text>
<text x="80.5" y="214.5" font-size="11" fill="#cc33ee" font-weight="normal" font-style="normal" text-anchor="start" textLength="13.6" lengthAdjust="spacingAndGlyphs" >Au</text>
<line x1="92.20" y1="217.40" x2="96.30" y2="223.40" stroke="#cc33ee" stroke-width="1.2" />
<text x="130.8" y="278.9" font-size="11" fill="#cc33ee" font-weight="normal" font-style="normal" text-anchor="start" textLength="13.6" lengthAdjust="spacingAndGlyphs" >Au</text>
<line x1="132.80" y1="284.90" x2="130.60" y2="290.80" stroke="#cc33ee" stroke-width="1.2" />
<text x="207.2" y="283.9" font-size="11" fill="#cc33ee" font-weight="normal" font-style="normal" text-anchor="start" textLength="13.6" lengthAdjust="spacingAndGlyphs" >Au</text>
<line x1="216.70" y1="286.80" x2="219.70" y2="292.40" stroke="#cc33ee" stroke-width="1.2" />
<text x="260.5" y="290.8" font-size="11" fill="#cc33ee" font-weight="normal" font-style="normal" text-anchor="start" textLength="13.6" lengthAdjust="spacingAndGlyphs" >Au</text>
<line x1="268.50" y1="294.80" x2="272.40" y2="300.40" stroke="#cc33ee" stroke-width="1.2" />
<text x="277.9" y="297.9" font-size="11" fill="#cc33ee" font-weight="normal" font-style="normal" text-anchor="start" textLength="13.6" lengthAdjust="spacingAndGlyphs" >Au</text>
<line x1="284.90" y1="303.80" x2="289.50" y2="309.40" stroke="#cc33ee" stroke-width="1.2" />
<text x="22.8" y="379.3" font-size="13.4" fill="#000" font-weight="normal" font-style="normal" text-anchor="middle" >6</text>
<text x="59.6" y="379.3" font-size="13.4" fill="#000" font-weight="normal" font-style="normal" text-anchor="middle" >8</text>
<text x="96.4" y="379.3" font-size="13.4" fill="#000" font-weight="normal" font-style="normal" text-anchor="middle" >10</text>
<text x="133.2" y="379.3" font-size="13.4" fill="#000" font-weight="normal" font-style="normal" text-anchor="middle" >12</text>
<text x="170.0" y="379.3" font-size="13.4" fill="#000" font-weight="normal" font-style="normal" text-anchor="middle" >14</text>
<text x="206.8" y="379.3" font-size="13.4" fill="#000" font-weight="normal" font-style="normal" text-anchor="middle" >16</text>
<text x="243.6" y="379.3" font-size="13.4" fill="#000" font-weight="normal" font-style="normal" text-anchor="middle" >18</text>
<text x="280.4" y="379.3" font-size="13.4" fill="#000" font-weight="normal" font-style="normal" text-anchor="middle" >20</text>
<text x="317.2" y="379.3" font-size="13.4" fill="#000" font-weight="normal" font-style="normal" text-anchor="middle" >22</text>
<text x="354.0" y="379.3" font-size="13.4" fill="#000" font-weight="normal" font-style="normal" text-anchor="middle" >24</text>
<text x="142.2" y="398.5" font-size="16.8" fill="#000" font-weight="normal" font-style="normal" text-anchor="start" textLength="91.5" lengthAdjust="spacingAndGlyphs" >2θ (Degrees)</text>
<text transform="translate(11.8,160.0) rotate(-90)" font-size="16.8" textLength="140.8" lengthAdjust="spacingAndGlyphs">Intensity (arb. units)</text>
<text transform="translate(11.8,346.3) rotate(-90)" font-size="16.8" textLength="140.8" lengthAdjust="spacingAndGlyphs">Intensity (arb. units)</text>
<defs>
<radialGradient id="gd" gradientUnits="userSpaceOnUse" cx="455.5" cy="289" r="84">
 <stop offset="0" stop-color="#d3d3d3"/><stop offset="0.55" stop-color="#d6d6d6"/><stop offset="0.72" stop-color="#dadada"/><stop offset="0.82" stop-color="#e6e6e6"/><stop offset="0.9" stop-color="#f6f6f6"/><stop offset="1" stop-color="#ffffff"/>
</radialGradient>
<radialGradient id="ge" gradientUnits="userSpaceOnUse" cx="614.8" cy="288.5" r="86.0"><stop offset="0.0000" stop-color="#a0a0a0"/><stop offset="0.2558" stop-color="#9c9c9c"/><stop offset="0.4070" stop-color="#9e9e9e"/><stop offset="0.5233" stop-color="#a3a3a3"/><stop offset="0.6395" stop-color="#ababab"/><stop offset="0.7209" stop-color="#b6b6b6"/><stop offset="0.7907" stop-color="#c0c0c0"/><stop offset="0.8488" stop-color="#cacaca"/><stop offset="0.8895" stop-color="#dcdcdc"/><stop offset="0.9244" stop-color="#f0f0f0"/><stop offset="0.9535" stop-color="#ffffff"/><stop offset="1.0000" stop-color="#ffffff"/></radialGradient>
<radialGradient id="gdisc" gradientUnits="userSpaceOnUse" cx="614" cy="287" r="21">
 <stop offset="0" stop-color="#dddddd"/><stop offset="0.5" stop-color="#d5d5d5"/><stop offset="0.85" stop-color="#cdcdcd"/><stop offset="1" stop-color="#c0c0c0"/>
</radialGradient>
<radialGradient id="gspot" gradientUnits="userSpaceOnUse" cx="613.3" cy="286.4" r="3.6">
 <stop offset="0" stop-color="#ffffff"/><stop offset="0.6" stop-color="#ffffff"/><stop offset="1" stop-color="#ffffff" stop-opacity="0"/>
</radialGradient>
<filter id="spk" x="0" y="0" width="1" height="1">
 <feTurbulence type="fractalNoise" baseFrequency="0.9" numOctaves="1" seed="3" result="n"/>
 <feColorMatrix in="n" type="matrix" values="0 0 0 0 0  0 0 0 0 0  0 0 0 0 0  0 0 0 -1.6 0.85" result="a"/>
 <feComposite in="a" in2="SourceGraphic" operator="in"/>
</filter>
<clipPath id="cd"><rect x="386.2" y="218.2" width="139" height="145.4"/></clipPath>
<clipPath id="ce"><rect x="545.5" y="217" width="139" height="145.6"/></clipPath>
<clipPath id="cen"><circle cx="614.8" cy="288.5" r="80"/></clipPath>
<clipPath id="cdn"><circle cx="455.5" cy="289" r="88"/></clipPath>
</defs>
<rect x="386.2" y="218.2" width="139" height="145.4" fill="url(#gd)"/>
<g clip-path="url(#cd)"><g clip-path="url(#cdn)"><rect x="386.2" y="218.2" width="139" height="145.4" fill="#000" opacity="0.23" filter="url(#spk)"/></g></g>
<line x1="408.30" y1="218.00" x2="408.30" y2="363.50" stroke="#9a9a9a" stroke-width="0.9" />
<line x1="432.40" y1="218.00" x2="432.40" y2="363.50" stroke="#7a7a7a" stroke-width="1.6" />
<line x1="455.60" y1="218.00" x2="455.60" y2="363.50" stroke="#a8a8a8" stroke-width="1.0" />
<line x1="479.40" y1="218.00" x2="479.40" y2="363.50" stroke="#333" stroke-width="1.2" />
<line x1="386.20" y1="240.50" x2="525.20" y2="240.50" stroke="#000" stroke-width="1.7" />
<line x1="386.20" y1="265.90" x2="525.20" y2="265.90" stroke="#000" stroke-width="1.7" />
<line x1="386.20" y1="290.80" x2="525.20" y2="290.80" stroke="#000" stroke-width="1.7" />
<line x1="386.20" y1="315.70" x2="525.20" y2="315.70" stroke="#000" stroke-width="1.7" />
<line x1="386.20" y1="340.80" x2="525.20" y2="340.80" stroke="#000" stroke-width="1.7" />
<rect x="386.6" y="218.5" width="138.5" height="144.89999999999998" fill="none" stroke="#000" stroke-width="1.1"/>
<circle cx="453.4" cy="287.9" r="1.8" fill="#fff"/>
<g fill="none" stroke="#3a3a3a" stroke-width="0.8" opacity="0.85"><path d="M471 274 Q473.5 276 474.5 278.5"/><path d="M434.3 299.8 Q437.5 303 440.8 306.5"/><path d="M475.6 297.5 Q473 301.5 469.8 305"/><path d="M459 266.5 L462 266.8"/></g>
<text x="445" y="285.6" font-size="8.6" fill="#1a1a1a" font-weight="bold" font-style="normal" text-anchor="start" textLength="25.5" lengthAdjust="spacingAndGlyphs" stroke="#1a1a1a" stroke-width="0.5">Sample</text>
<line x1="468.60" y1="282.30" x2="471.10" y2="276.40" stroke="#222" stroke-width="1.0" />
<text x="512.1" y="259.6" font-size="8.8" fill="#1a1a1a" font-weight="bold" font-style="normal" text-anchor="start" textLength="12.4" lengthAdjust="spacingAndGlyphs" stroke="#1a1a1a" stroke-width="0.35">Dia.</text>
<line x1="505.50" y1="254.00" x2="509.80" y2="256.50" stroke="#222" stroke-width="0.9" />
<circle cx="503.2" cy="251.6" r="0.6" fill="#222"/>
<text x="413" y="329.6" font-size="8.8" fill="#1a1a1a" font-weight="bold" font-style="normal" text-anchor="start" textLength="12.8" lengthAdjust="spacingAndGlyphs" stroke="#1a1a1a" stroke-width="0.35">Dia.</text>
<line x1="407.10" y1="324.60" x2="411.20" y2="326.50" stroke="#222" stroke-width="0.9" />
<circle cx="404" cy="322.5" r="0.6" fill="#222"/>
<rect x="545.5" y="217" width="139" height="145.6" fill="url(#ge)"/>
<g clip-path="url(#ce)"><g clip-path="url(#cen)"><rect x="545.5" y="217" width="139" height="145.6" fill="#000" opacity="0.12" filter="url(#spk)"/></g></g>
<g clip-path="url(#ce)" fill="none">
<path d="M640.30 287.80 A25.5 25.5 0 0 1 639.37 294.61" stroke="#555" stroke-width="0.7" opacity="0.48"/>
<path d="M639.43 294.40 A25.5 25.5 0 0 1 636.77 300.74" stroke="#555" stroke-width="0.7" opacity="0.41"/>
<path d="M636.88 300.55 A25.5 25.5 0 0 1 632.67 305.99" stroke="#555" stroke-width="0.7" opacity="0.45"/>
<path d="M632.83 305.83 A25.5 25.5 0 0 1 627.36 309.99" stroke="#555" stroke-width="0.7" opacity="0.44"/>
<path d="M627.55 309.88 A25.5 25.5 0 0 1 621.18 312.49" stroke="#555" stroke-width="0.7" opacity="0.50"/>
<path d="M621.40 312.43 A25.5 25.5 0 0 1 614.58 313.30" stroke="#555" stroke-width="0.7" opacity="0.43"/>
<path d="M614.80 313.30 A25.5 25.5 0 0 1 607.99 312.37" stroke="#555" stroke-width="0.7" opacity="0.59"/>
<path d="M608.20 312.43 A25.5 25.5 0 0 1 601.86 309.77" stroke="#555" stroke-width="0.7" opacity="0.45"/>
<path d="M602.05 309.88 A25.5 25.5 0 0 1 596.61 305.67" stroke="#555" stroke-width="0.7" opacity="0.21"/>
<path d="M596.77 305.83 A25.5 25.5 0 0 1 592.61 300.36" stroke="#555" stroke-width="0.7" opacity="0.21"/>
<path d="M592.72 300.55 A25.5 25.5 0 0 1 590.11 294.18" stroke="#555" stroke-width="0.7" opacity="0.15"/>
<path d="M590.17 294.40 A25.5 25.5 0 0 1 589.30 287.58" stroke="#555" stroke-width="0.7" opacity="0.18"/>
<path d="M589.30 287.80 A25.5 25.5 0 0 1 590.23 280.99" stroke="#555" stroke-width="0.7" opacity="0.68"/>
<path d="M590.17 281.20 A25.5 25.5 0 0 1 592.83 274.86" stroke="#555" stroke-width="0.7" opacity="0.71"/>
<path d="M592.72 275.05 A25.5 25.5 0 0 1 596.93 269.61" stroke="#555" stroke-width="0.7" opacity="0.59"/>
<path d="M596.77 269.77 A25.5 25.5 0 0 1 602.24 265.61" stroke="#555" stroke-width="0.7" opacity="0.54"/>
<path d="M602.05 265.72 A25.5 25.5 0 0 1 608.42 263.11" stroke="#555" stroke-width="0.7" opacity="0.53"/>
<path d="M608.20 263.17 A25.5 25.5 0 0 1 615.02 262.30" stroke="#555" stroke-width="0.7" opacity="0.71"/>
<path d="M614.80 262.30 A25.5 25.5 0 0 1 621.61 263.23" stroke="#555" stroke-width="0.7" opacity="0.53"/>
<path d="M621.40 263.17 A25.5 25.5 0 0 1 627.74 265.83" stroke="#555" stroke-width="0.7" opacity="0.62"/>
<path d="M627.55 265.72 A25.5 25.5 0 0 1 632.99 269.93" stroke="#555" stroke-width="0.7" opacity="0.51"/>
<path d="M632.83 269.77 A25.5 25.5 0 0 1 636.99 275.24" stroke="#555" stroke-width="0.7" opacity="0.61"/>
<path d="M636.88 275.05 A25.5 25.5 0 0 1 639.49 281.42" stroke="#555" stroke-width="0.7" opacity="0.71"/>
<path d="M639.43 281.20 A25.5 25.5 0 0 1 640.30 288.02" stroke="#555" stroke-width="0.7" opacity="0.51"/>
<path d="M643.30 287.80 A28.5 28.5 0 0 1 642.26 295.42" stroke="#666" stroke-width="0.6" opacity="0.42"/>
<path d="M642.33 295.18 A28.5 28.5 0 0 1 639.36 302.26" stroke="#666" stroke-width="0.6" opacity="0.38"/>
<path d="M639.48 302.05 A28.5 28.5 0 0 1 634.78 308.13" stroke="#666" stroke-width="0.6" opacity="0.43"/>
<path d="M634.95 307.95 A28.5 28.5 0 0 1 628.83 312.61" stroke="#666" stroke-width="0.6" opacity="0.41"/>
<path d="M629.05 312.48 A28.5 28.5 0 0 1 621.94 315.39" stroke="#666" stroke-width="0.6" opacity="0.38"/>
<path d="M622.18 315.33 A28.5 28.5 0 0 1 614.55 316.30" stroke="#666" stroke-width="0.6" opacity="0.49"/>
<path d="M614.80 316.30 A28.5 28.5 0 0 1 607.18 315.26" stroke="#666" stroke-width="0.6" opacity="0.42"/>
<path d="M607.42 315.33 A28.5 28.5 0 0 1 600.34 312.36" stroke="#666" stroke-width="0.6" opacity="0.34"/>
<path d="M600.55 312.48 A28.5 28.5 0 0 1 594.47 307.78" stroke="#666" stroke-width="0.6" opacity="0.12"/>
<path d="M594.65 307.95 A28.5 28.5 0 0 1 589.99 301.83" stroke="#666" stroke-width="0.6" opacity="0.15"/>
<path d="M590.12 302.05 A28.5 28.5 0 0 1 587.21 294.94" stroke="#666" stroke-width="0.6" opacity="0.15"/>
<path d="M587.27 295.18 A28.5 28.5 0 0 1 586.30 287.55" stroke="#666" stroke-width="0.6" opacity="0.14"/>
<path d="M586.30 287.80 A28.5 28.5 0 0 1 587.34 280.18" stroke="#666" stroke-width="0.6" opacity="0.43"/>
<path d="M587.27 280.42 A28.5 28.5 0 0 1 590.24 273.34" stroke="#666" stroke-width="0.6" opacity="0.47"/>
<path d="M590.12 273.55 A28.5 28.5 0 0 1 594.82 267.47" stroke="#666" stroke-width="0.6" opacity="0.46"/>
<path d="M594.65 267.65 A28.5 28.5 0 0 1 600.77 262.99" stroke="#666" stroke-width="0.6" opacity="0.57"/>
<path d="M600.55 263.12 A28.5 28.5 0 0 1 607.66 260.21" stroke="#666" stroke-width="0.6" opacity="0.40"/>
<path d="M607.42 260.27 A28.5 28.5 0 0 1 615.05 259.30" stroke="#666" stroke-width="0.6" opacity="0.55"/>
<path d="M614.80 259.30 A28.5 28.5 0 0 1 622.42 260.34" stroke="#666" stroke-width="0.6" opacity="0.57"/>
<path d="M622.18 260.27 A28.5 28.5 0 0 1 629.26 263.24" stroke="#666" stroke-width="0.6" opacity="0.42"/>
<path d="M629.05 263.12 A28.5 28.5 0 0 1 635.13 267.82" stroke="#666" stroke-width="0.6" opacity="0.59"/>
<path d="M634.95 267.65 A28.5 28.5 0 0 1 639.61 273.77" stroke="#666" stroke-width="0.6" opacity="0.54"/>
<path d="M639.48 273.55 A28.5 28.5 0 0 1 642.39 280.66" stroke="#666" stroke-width="0.6" opacity="0.58"/>
<path d="M642.33 280.42 A28.5 28.5 0 0 1 643.30 288.05" stroke="#666" stroke-width="0.6" opacity="0.46"/>
<path d="M647.00 287.80 A32.2 32.2 0 0 1 645.83 296.41" stroke="#333" stroke-width="0.9" opacity="0.60"/>
<path d="M645.90 296.13 A32.2 32.2 0 0 1 642.54 304.14" stroke="#333" stroke-width="0.9" opacity="0.61"/>
<path d="M642.69 303.90 A32.2 32.2 0 0 1 637.37 310.77" stroke="#333" stroke-width="0.9" opacity="0.76"/>
<path d="M637.57 310.57 A32.2 32.2 0 0 1 630.66 315.83" stroke="#333" stroke-width="0.9" opacity="0.66"/>
<path d="M630.90 315.69 A32.2 32.2 0 0 1 622.86 318.97" stroke="#333" stroke-width="0.9" opacity="0.68"/>
<path d="M623.13 318.90 A32.2 32.2 0 0 1 614.52 320.00" stroke="#333" stroke-width="0.9" opacity="0.70"/>
<path d="M614.80 320.00 A32.2 32.2 0 0 1 606.19 318.83" stroke="#333" stroke-width="0.9" opacity="0.66"/>
<path d="M606.47 318.90 A32.2 32.2 0 0 1 598.46 315.54" stroke="#333" stroke-width="0.9" opacity="0.59"/>
<path d="M598.70 315.69 A32.2 32.2 0 0 1 591.83 310.37" stroke="#333" stroke-width="0.9" opacity="0.21"/>
<path d="M592.03 310.57 A32.2 32.2 0 0 1 586.77 303.66" stroke="#333" stroke-width="0.9" opacity="0.29"/>
<path d="M586.91 303.90 A32.2 32.2 0 0 1 583.63 295.86" stroke="#333" stroke-width="0.9" opacity="0.23"/>
<path d="M583.70 296.13 A32.2 32.2 0 0 1 582.60 287.52" stroke="#333" stroke-width="0.9" opacity="0.30"/>
<path d="M582.60 287.80 A32.2 32.2 0 0 1 583.77 279.19" stroke="#333" stroke-width="0.9" opacity="0.76"/>
<path d="M583.70 279.47 A32.2 32.2 0 0 1 587.06 271.46" stroke="#333" stroke-width="0.9" opacity="0.77"/>
<path d="M586.91 271.70 A32.2 32.2 0 0 1 592.23 264.83" stroke="#333" stroke-width="0.9" opacity="0.85"/>
<path d="M592.03 265.03 A32.2 32.2 0 0 1 598.94 259.77" stroke="#333" stroke-width="0.9" opacity="0.74"/>
<path d="M598.70 259.91 A32.2 32.2 0 0 1 606.74 256.63" stroke="#333" stroke-width="0.9" opacity="0.81"/>
<path d="M606.47 256.70 A32.2 32.2 0 0 1 615.08 255.60" stroke="#333" stroke-width="0.9" opacity="1.00"/>
<path d="M614.80 255.60 A32.2 32.2 0 0 1 623.41 256.77" stroke="#333" stroke-width="0.9" opacity="0.98"/>
<path d="M623.13 256.70 A32.2 32.2 0 0 1 631.14 260.06" stroke="#333" stroke-width="0.9" opacity="0.96"/>
<path d="M630.90 259.91 A32.2 32.2 0 0 1 637.77 265.23" stroke="#333" stroke-width="0.9" opacity="0.89"/>
<path d="M637.57 265.03 A32.2 32.2 0 0 1 642.83 271.94" stroke="#333" stroke-width="0.9" opacity="0.99"/>
<path d="M642.69 271.70 A32.2 32.2 0 0 1 645.97 279.74" stroke="#333" stroke-width="0.9" opacity="1.00"/>
<path d="M645.90 279.47 A32.2 32.2 0 0 1 647.00 288.08" stroke="#333" stroke-width="0.9" opacity="0.87"/>
<path d="M650.10 287.80 A35.3 35.3 0 0 1 648.82 297.23" stroke="#333" stroke-width="0.9" opacity="0.69"/>
<path d="M648.90 296.94 A35.3 35.3 0 0 1 645.22 305.72" stroke="#333" stroke-width="0.9" opacity="0.52"/>
<path d="M645.37 305.45 A35.3 35.3 0 0 1 639.54 312.98" stroke="#333" stroke-width="0.9" opacity="0.70"/>
<path d="M639.76 312.76 A35.3 35.3 0 0 1 632.18 318.52" stroke="#333" stroke-width="0.9" opacity="0.62"/>
<path d="M632.45 318.37 A35.3 35.3 0 0 1 623.64 321.98" stroke="#333" stroke-width="0.9" opacity="0.80"/>
<path d="M623.94 321.90 A35.3 35.3 0 0 1 614.49 323.10" stroke="#333" stroke-width="0.9" opacity="0.76"/>
<path d="M614.80 323.10 A35.3 35.3 0 0 1 605.37 321.82" stroke="#333" stroke-width="0.9" opacity="0.66"/>
<path d="M605.66 321.90 A35.3 35.3 0 0 1 596.88 318.22" stroke="#333" stroke-width="0.9" opacity="0.59"/>
<path d="M597.15 318.37 A35.3 35.3 0 0 1 589.62 312.54" stroke="#333" stroke-width="0.9" opacity="0.30"/>
<path d="M589.84 312.76 A35.3 35.3 0 0 1 584.08 305.18" stroke="#333" stroke-width="0.9" opacity="0.22"/>
<path d="M584.23 305.45 A35.3 35.3 0 0 1 580.62 296.64" stroke="#333" stroke-width="0.9" opacity="0.25"/>
<path d="M580.70 296.94 A35.3 35.3 0 0 1 579.50 287.49" stroke="#333" stroke-width="0.9" opacity="0.24"/>
<path d="M579.50 287.80 A35.3 35.3 0 0 1 580.78 278.37" stroke="#333" stroke-width="0.9" opacity="0.78"/>
<path d="M580.70 278.66 A35.3 35.3 0 0 1 584.38 269.88" stroke="#333" stroke-width="0.9" opacity="0.93"/>
<path d="M584.23 270.15 A35.3 35.3 0 0 1 590.06 262.62" stroke="#333" stroke-width="0.9" opacity="1.00"/>
<path d="M589.84 262.84 A35.3 35.3 0 0 1 597.42 257.08" stroke="#333" stroke-width="0.9" opacity="0.77"/>
<path d="M597.15 257.23 A35.3 35.3 0 0 1 605.96 253.62" stroke="#333" stroke-width="0.9" opacity="0.90"/>
<path d="M605.66 253.70 A35.3 35.3 0 0 1 615.11 252.50" stroke="#333" stroke-width="0.9" opacity="0.78"/>
<path d="M614.80 252.50 A35.3 35.3 0 0 1 624.23 253.78" stroke="#333" stroke-width="0.9" opacity="0.87"/>
<path d="M623.94 253.70 A35.3 35.3 0 0 1 632.72 257.38" stroke="#333" stroke-width="0.9" opacity="0.81"/>
<path d="M632.45 257.23 A35.3 35.3 0 0 1 639.98 263.06" stroke="#333" stroke-width="0.9" opacity="0.74"/>
<path d="M639.76 262.84 A35.3 35.3 0 0 1 645.52 270.42" stroke="#333" stroke-width="0.9" opacity="0.73"/>
<path d="M645.37 270.15 A35.3 35.3 0 0 1 648.98 278.96" stroke="#333" stroke-width="0.9" opacity="0.75"/>
<path d="M648.90 278.66 A35.3 35.3 0 0 1 650.10 288.11" stroke="#333" stroke-width="0.9" opacity="0.99"/>
<path d="M652.60 287.80 A37.8 37.8 0 0 1 651.23 297.90" stroke="#444" stroke-width="0.7" opacity="0.52"/>
<path d="M651.31 297.58 A37.8 37.8 0 0 1 647.37 306.98" stroke="#444" stroke-width="0.7" opacity="0.47"/>
<path d="M647.54 306.70 A37.8 37.8 0 0 1 641.29 314.76" stroke="#444" stroke-width="0.7" opacity="0.61"/>
<path d="M641.53 314.53 A37.8 37.8 0 0 1 633.41 320.70" stroke="#444" stroke-width="0.7" opacity="0.63"/>
<path d="M633.70 320.54 A37.8 37.8 0 0 1 624.26 324.40" stroke="#444" stroke-width="0.7" opacity="0.58"/>
<path d="M624.58 324.31 A37.8 37.8 0 0 1 614.47 325.60" stroke="#444" stroke-width="0.7" opacity="0.51"/>
<path d="M614.80 325.60 A37.8 37.8 0 0 1 604.70 324.23" stroke="#444" stroke-width="0.7" opacity="0.52"/>
<path d="M605.02 324.31 A37.8 37.8 0 0 1 595.62 320.37" stroke="#444" stroke-width="0.7" opacity="0.50"/>
<path d="M595.90 320.54 A37.8 37.8 0 0 1 587.84 314.29" stroke="#444" stroke-width="0.7" opacity="0.20"/>
<path d="M588.07 314.53 A37.8 37.8 0 0 1 581.90 306.41" stroke="#444" stroke-width="0.7" opacity="0.18"/>
<path d="M582.06 306.70 A37.8 37.8 0 0 1 578.20 297.26" stroke="#444" stroke-width="0.7" opacity="0.19"/>
<path d="M578.29 297.58 A37.8 37.8 0 0 1 577.00 287.47" stroke="#444" stroke-width="0.7" opacity="0.19"/>
<path d="M577.00 287.80 A37.8 37.8 0 0 1 578.37 277.70" stroke="#444" stroke-width="0.7" opacity="0.72"/>
<path d="M578.29 278.02 A37.8 37.8 0 0 1 582.23 268.62" stroke="#444" stroke-width="0.7" opacity="0.81"/>
<path d="M582.06 268.90 A37.8 37.8 0 0 1 588.31 260.84" stroke="#444" stroke-width="0.7" opacity="0.77"/>
<path d="M588.07 261.07 A37.8 37.8 0 0 1 596.19 254.90" stroke="#444" stroke-width="0.7" opacity="0.68"/>
<path d="M595.90 255.06 A37.8 37.8 0 0 1 605.34 251.20" stroke="#444" stroke-width="0.7" opacity="0.68"/>
<path d="M605.02 251.29 A37.8 37.8 0 0 1 615.13 250.00" stroke="#444" stroke-width="0.7" opacity="0.71"/>
<path d="M614.80 250.00 A37.8 37.8 0 0 1 624.90 251.37" stroke="#444" stroke-width="0.7" opacity="0.67"/>
<path d="M624.58 251.29 A37.8 37.8 0 0 1 633.98 255.23" stroke="#444" stroke-width="0.7" opacity="0.65"/>
<path d="M633.70 255.06 A37.8 37.8 0 0 1 641.76 261.31" stroke="#444" stroke-width="0.7" opacity="0.58"/>
<path d="M641.53 261.07 A37.8 37.8 0 0 1 647.70 269.19" stroke="#444" stroke-width="0.7" opacity="0.64"/>
<path d="M647.54 268.90 A37.8 37.8 0 0 1 651.40 278.34" stroke="#444" stroke-width="0.7" opacity="0.83"/>
<path d="M651.31 278.02 A37.8 37.8 0 0 1 652.60 288.13" stroke="#444" stroke-width="0.7" opacity="0.60"/>
<path d="M657.10 287.80 A42.3 42.3 0 0 1 655.56 299.10" stroke="#333" stroke-width="0.9" opacity="0.60"/>
<path d="M655.66 298.75 A42.3 42.3 0 0 1 651.25 309.27" stroke="#333" stroke-width="0.9" opacity="0.63"/>
<path d="M651.43 308.95 A42.3 42.3 0 0 1 644.45 317.97" stroke="#333" stroke-width="0.9" opacity="0.69"/>
<path d="M644.71 317.71 A42.3 42.3 0 0 1 635.63 324.62" stroke="#333" stroke-width="0.9" opacity="0.53"/>
<path d="M635.95 324.43 A42.3 42.3 0 0 1 625.39 328.75" stroke="#333" stroke-width="0.9" opacity="0.62"/>
<path d="M625.75 328.66 A42.3 42.3 0 0 1 614.43 330.10" stroke="#333" stroke-width="0.9" opacity="0.61"/>
<path d="M614.80 330.10 A42.3 42.3 0 0 1 603.50 328.56" stroke="#333" stroke-width="0.9" opacity="0.65"/>
<path d="M603.85 328.66 A42.3 42.3 0 0 1 593.33 324.25" stroke="#333" stroke-width="0.9" opacity="0.67"/>
<path d="M593.65 324.43 A42.3 42.3 0 0 1 584.63 317.45" stroke="#333" stroke-width="0.9" opacity="0.28"/>
<path d="M584.89 317.71 A42.3 42.3 0 0 1 577.98 308.63" stroke="#333" stroke-width="0.9" opacity="0.27"/>
<path d="M578.17 308.95 A42.3 42.3 0 0 1 573.85 298.39" stroke="#333" stroke-width="0.9" opacity="0.28"/>
<path d="M573.94 298.75 A42.3 42.3 0 0 1 572.50 287.43" stroke="#333" stroke-width="0.9" opacity="0.19"/>
<path d="M572.50 287.80 A42.3 42.3 0 0 1 574.04 276.50" stroke="#333" stroke-width="0.9" opacity="0.65"/>
<path d="M573.94 276.85 A42.3 42.3 0 0 1 578.35 266.33" stroke="#333" stroke-width="0.9" opacity="0.87"/>
<path d="M578.17 266.65 A42.3 42.3 0 0 1 585.15 257.63" stroke="#333" stroke-width="0.9" opacity="0.93"/>
<path d="M584.89 257.89 A42.3 42.3 0 0 1 593.97 250.98" stroke="#333" stroke-width="0.9" opacity="0.79"/>
<path d="M593.65 251.17 A42.3 42.3 0 0 1 604.21 246.85" stroke="#333" stroke-width="0.9" opacity="0.83"/>
<path d="M603.85 246.94 A42.3 42.3 0 0 1 615.17 245.50" stroke="#333" stroke-width="0.9" opacity="0.64"/>
<path d="M614.80 245.50 A42.3 42.3 0 0 1 626.10 247.04" stroke="#333" stroke-width="0.9" opacity="0.77"/>
<path d="M625.75 246.94 A42.3 42.3 0 0 1 636.27 251.35" stroke="#333" stroke-width="0.9" opacity="0.94"/>
<path d="M635.95 251.17 A42.3 42.3 0 0 1 644.97 258.15" stroke="#333" stroke-width="0.9" opacity="0.90"/>
<path d="M644.71 257.89 A42.3 42.3 0 0 1 651.62 266.97" stroke="#333" stroke-width="0.9" opacity="0.91"/>
<path d="M651.43 266.65 A42.3 42.3 0 0 1 655.75 277.21" stroke="#333" stroke-width="0.9" opacity="0.95"/>
<path d="M655.66 276.85 A42.3 42.3 0 0 1 657.10 288.17" stroke="#333" stroke-width="0.9" opacity="0.72"/>
<path d="M661.30 287.80 A46.5 46.5 0 0 1 659.61 300.23" stroke="#555" stroke-width="0.6" opacity="0.22"/>
<path d="M659.72 299.84 A46.5 46.5 0 0 1 654.87 311.40" stroke="#555" stroke-width="0.6" opacity="0.23"/>
<path d="M655.07 311.05 A46.5 46.5 0 0 1 647.39 320.97" stroke="#555" stroke-width="0.6" opacity="0.26"/>
<path d="M647.68 320.68 A46.5 46.5 0 0 1 637.70 328.27" stroke="#555" stroke-width="0.6" opacity="0.28"/>
<path d="M638.05 328.07 A46.5 46.5 0 0 1 626.44 332.82" stroke="#555" stroke-width="0.6" opacity="0.35"/>
<path d="M626.84 332.72 A46.5 46.5 0 0 1 614.39 334.30" stroke="#555" stroke-width="0.6" opacity="0.32"/>
<path d="M614.80 334.30 A46.5 46.5 0 0 1 602.37 332.61" stroke="#555" stroke-width="0.6" opacity="0.32"/>
<path d="M602.76 332.72 A46.5 46.5 0 0 1 591.20 327.87" stroke="#555" stroke-width="0.6" opacity="0.33"/>
<path d="M591.55 328.07 A46.5 46.5 0 0 1 581.63 320.39" stroke="#555" stroke-width="0.6" opacity="0.10"/>
<path d="M581.92 320.68 A46.5 46.5 0 0 1 574.33 310.70" stroke="#555" stroke-width="0.6" opacity="0.11"/>
<path d="M574.53 311.05 A46.5 46.5 0 0 1 569.78 299.44" stroke="#555" stroke-width="0.6" opacity="0.09"/>
<path d="M569.88 299.84 A46.5 46.5 0 0 1 568.30 287.39" stroke="#555" stroke-width="0.6" opacity="0.12"/>
<path d="M568.30 287.80 A46.5 46.5 0 0 1 569.99 275.37" stroke="#555" stroke-width="0.6" opacity="0.31"/>
<path d="M569.88 275.76 A46.5 46.5 0 0 1 574.73 264.20" stroke="#555" stroke-width="0.6" opacity="0.41"/>
<path d="M574.53 264.55 A46.5 46.5 0 0 1 582.21 254.63" stroke="#555" stroke-width="0.6" opacity="0.37"/>
<path d="M581.92 254.92 A46.5 46.5 0 0 1 591.90 247.33" stroke="#555" stroke-width="0.6" opacity="0.32"/>
<path d="M591.55 247.53 A46.5 46.5 0 0 1 603.16 242.78" stroke="#555" stroke-width="0.6" opacity="0.30"/>
<path d="M602.76 242.88 A46.5 46.5 0 0 1 615.21 241.30" stroke="#555" stroke-width="0.6" opacity="0.32"/>
<path d="M614.80 241.30 A46.5 46.5 0 0 1 627.23 242.99" stroke="#555" stroke-width="0.6" opacity="0.37"/>
<path d="M626.84 242.88 A46.5 46.5 0 0 1 638.40 247.73" stroke="#555" stroke-width="0.6" opacity="0.38"/>
<path d="M638.05 247.53 A46.5 46.5 0 0 1 647.97 255.21" stroke="#555" stroke-width="0.6" opacity="0.30"/>
<path d="M647.68 254.92 A46.5 46.5 0 0 1 655.27 264.90" stroke="#555" stroke-width="0.6" opacity="0.29"/>
<path d="M655.07 264.55 A46.5 46.5 0 0 1 659.82 276.16" stroke="#555" stroke-width="0.6" opacity="0.35"/>
<path d="M659.72 275.76 A46.5 46.5 0 0 1 661.30 288.21" stroke="#555" stroke-width="0.6" opacity="0.36"/>
<path d="M666.80 287.80 A52 52 0 0 1 664.91 301.70" stroke="#777" stroke-width="0.5" opacity="0.14"/>
<path d="M665.03 301.26 A52 52 0 0 1 659.60 314.19" stroke="#777" stroke-width="0.5" opacity="0.13"/>
<path d="M659.83 313.80 A52 52 0 0 1 651.25 324.89" stroke="#777" stroke-width="0.5" opacity="0.16"/>
<path d="M651.57 324.57 A52 52 0 0 1 640.41 333.06" stroke="#777" stroke-width="0.5" opacity="0.12"/>
<path d="M640.80 332.83 A52 52 0 0 1 627.82 338.14" stroke="#777" stroke-width="0.5" opacity="0.16"/>
<path d="M628.26 338.03 A52 52 0 0 1 614.35 339.80" stroke="#777" stroke-width="0.5" opacity="0.17"/>
<path d="M614.80 339.80 A52 52 0 0 1 600.90 337.91" stroke="#777" stroke-width="0.5" opacity="0.20"/>
<path d="M601.34 338.03 A52 52 0 0 1 588.41 332.60" stroke="#777" stroke-width="0.5" opacity="0.18"/>
<path d="M588.80 332.83 A52 52 0 0 1 577.71 324.25" stroke="#777" stroke-width="0.5" opacity="0.07"/>
<path d="M578.03 324.57 A52 52 0 0 1 569.54 313.41" stroke="#777" stroke-width="0.5" opacity="0.06"/>
<path d="M569.77 313.80 A52 52 0 0 1 564.46 300.82" stroke="#777" stroke-width="0.5" opacity="0.05"/>
<path d="M564.57 301.26 A52 52 0 0 1 562.80 287.35" stroke="#777" stroke-width="0.5" opacity="0.05"/>
<path d="M562.80 287.80 A52 52 0 0 1 564.69 273.90" stroke="#777" stroke-width="0.5" opacity="0.24"/>
<path d="M564.57 274.34 A52 52 0 0 1 570.00 261.41" stroke="#777" stroke-width="0.5" opacity="0.22"/>
<path d="M569.77 261.80 A52 52 0 0 1 578.35 250.71" stroke="#777" stroke-width="0.5" opacity="0.18"/>
<path d="M578.03 251.03 A52 52 0 0 1 589.19 242.54" stroke="#777" stroke-width="0.5" opacity="0.16"/>
<path d="M588.80 242.77 A52 52 0 0 1 601.78 237.46" stroke="#777" stroke-width="0.5" opacity="0.20"/>
<path d="M601.34 237.57 A52 52 0 0 1 615.25 235.80" stroke="#777" stroke-width="0.5" opacity="0.21"/>
<path d="M614.80 235.80 A52 52 0 0 1 628.70 237.69" stroke="#777" stroke-width="0.5" opacity="0.19"/>
<path d="M628.26 237.57 A52 52 0 0 1 641.19 243.00" stroke="#777" stroke-width="0.5" opacity="0.18"/>
<path d="M640.80 242.77 A52 52 0 0 1 651.89 251.35" stroke="#777" stroke-width="0.5" opacity="0.21"/>
<path d="M651.57 251.03 A52 52 0 0 1 660.06 262.19" stroke="#777" stroke-width="0.5" opacity="0.23"/>
<path d="M659.83 261.80 A52 52 0 0 1 665.14 274.78" stroke="#777" stroke-width="0.5" opacity="0.18"/>
<path d="M665.03 274.34 A52 52 0 0 1 666.80 288.25" stroke="#777" stroke-width="0.5" opacity="0.16"/>
</g>
<circle cx="614.8" cy="287.8" r="20.3" fill="url(#gdisc)"/>
<circle cx="614.8" cy="287.8" r="21" fill="none" stroke="#555" stroke-width="1.0" opacity="0.8"/>
<g fill="none" stroke="#1e1e1e"><path d="M594.50 280.41 A21.6 21.6 0 0 1 602.41 270.11" stroke-width="2.2" opacity="0.8"/><path d="M604.00 269.09 A21.6 21.6 0 0 1 611.79 266.41" stroke-width="1.6" opacity="0.6"/><path d="M614.05 266.21 A21.6 21.6 0 0 1 625.60 269.09" stroke-width="2.4" opacity="0.85"/><path d="M627.19 270.11 A21.6 21.6 0 0 1 633.51 277.00" stroke-width="1.4" opacity="0.6"/><path d="M634.38 278.67 A21.6 21.6 0 0 1 636.39 287.05" stroke-width="2.6" opacity="0.85"/><path d="M636.39 288.55 A21.6 21.6 0 0 1 634.38 296.93" stroke-width="1.8" opacity="0.7"/><path d="M633.51 298.60 A21.6 21.6 0 0 1 628.10 304.82" stroke-width="2.8" opacity="0.9"/><path d="M626.25 306.12 A21.6 21.6 0 0 1 618.55 309.07" stroke-width="1.4" opacity="0.5"/><path d="M612.92 309.32 A21.6 21.6 0 0 1 604.66 306.87" stroke-width="2.0" opacity="0.75"/><path d="M602.41 305.49 A21.6 21.6 0 0 1 596.09 298.60" stroke-width="1.4" opacity="0.5"/><path d="M595.22 296.93 A21.6 21.6 0 0 1 593.67 283.31" stroke-width="2.4" opacity="0.8"/></g>
<circle cx="613.3" cy="286.4" r="3.6" fill="url(#gspot)"/>
<line x1="591.50" y1="217.00" x2="591.50" y2="362.40" stroke="#333" stroke-width="0.9" />
<line x1="638.70" y1="217.00" x2="638.70" y2="362.40" stroke="#333" stroke-width="0.9" />
<line x1="662.50" y1="217.00" x2="662.50" y2="362.40" stroke="#777" stroke-width="0.8" />
<line x1="545.50" y1="239.80" x2="684.50" y2="239.80" stroke="#000" stroke-width="1.7" />
<line x1="545.50" y1="264.60" x2="684.50" y2="264.60" stroke="#000" stroke-width="1.7" />
<line x1="545.50" y1="289.50" x2="684.50" y2="289.50" stroke="#000" stroke-width="1.7" />
<line x1="545.50" y1="314.60" x2="684.50" y2="314.60" stroke="#000" stroke-width="1.7" />
<line x1="545.50" y1="339.50" x2="684.50" y2="339.50" stroke="#000" stroke-width="1.7" />
<line x1="545.50" y1="217.20" x2="684.50" y2="217.20" stroke="#555" stroke-width="1.5" />
<line x1="545.50" y1="362.40" x2="684.50" y2="362.40" stroke="#111" stroke-width="1.4" />
<line x1="546.00" y1="217.00" x2="546.00" y2="362.60" stroke="#000" stroke-width="1.1" />
<line x1="684.10" y1="217.00" x2="684.10" y2="362.60" stroke="#000" stroke-width="1.3" />
<text x="613.4" y="280.8" font-size="8.4" fill="#cc33ee" font-weight="bold" font-style="normal" text-anchor="start" textLength="7.8" lengthAdjust="spacingAndGlyphs" stroke="#cc33ee" stroke-width="0.25">Au</text>
<line x1="619.20" y1="274.00" x2="620.80" y2="270.50" stroke="#cc33ee" stroke-width="0.9" />
<text x="562.1" y="302.9" font-size="8.6" fill="#1a1a1a" font-weight="bold" font-style="normal" text-anchor="start" textLength="25.8" lengthAdjust="spacingAndGlyphs" stroke="#1a1a1a" stroke-width="0.5">Sample</text>
<line x1="587.50" y1="297.00" x2="589.20" y2="293.50" stroke="#222" stroke-width="1.0" />
<text x="653.1" y="307.9" font-size="8.6" fill="#1a1a1a" font-weight="bold" font-style="normal" text-anchor="start" textLength="13" lengthAdjust="spacingAndGlyphs" stroke="#1a1a1a" stroke-width="0.35">Dia.</text>
<line x1="666.10" y1="303.40" x2="669.90" y2="301.20" stroke="#222" stroke-width="0.9" />
<circle cx="673.2" cy="298.8" r="0.8" fill="#222"/>
<text x="613.7" y="354.8" font-size="8.6" fill="#1a1a1a" font-weight="bold" font-style="normal" text-anchor="start" textLength="13.4" lengthAdjust="spacingAndGlyphs" stroke="#1a1a1a" stroke-width="0.35">Dia.</text>
<line x1="606.90" y1="348.80" x2="611.60" y2="351.00" stroke="#222" stroke-width="0.9" />
<circle cx="605.5" cy="347.7" r="0.6" fill="#222"/>
<text x="391.6" y="386.9" font-size="20" fill="#000" font-weight="bold" font-style="normal" text-anchor="start" textLength="20.8" lengthAdjust="spacingAndGlyphs" >(d)</text>
<text x="420.5" y="379.3" font-size="11.5" fill="#000" font-weight="normal" font-style="normal" text-anchor="start" textLength="78.4" lengthAdjust="spacingAndGlyphs" >P= 9.8(1) GPa</text>
<text x="420.5" y="393.3" font-size="11.5" fill="#000" font-weight="normal" font-style="normal" text-anchor="start" textLength="50" lengthAdjust="spacingAndGlyphs" >T= 298 K</text>
<text x="549.6" y="386.5" font-size="20" fill="#000" font-weight="bold" font-style="normal" text-anchor="start" textLength="19.6" lengthAdjust="spacingAndGlyphs" >(e)</text>
<text x="576.2" y="378.6" font-size="11.5" fill="#000" font-weight="normal" font-style="normal" text-anchor="start" textLength="85.4" lengthAdjust="spacingAndGlyphs" >P= 15.0(2) GPa</text>
<text x="576.2" y="392.8" font-size="11.5" fill="#000" font-weight="normal" font-style="normal" text-anchor="start" textLength="50" lengthAdjust="spacingAndGlyphs" >T= 298 K</text>
</svg></body></html>
